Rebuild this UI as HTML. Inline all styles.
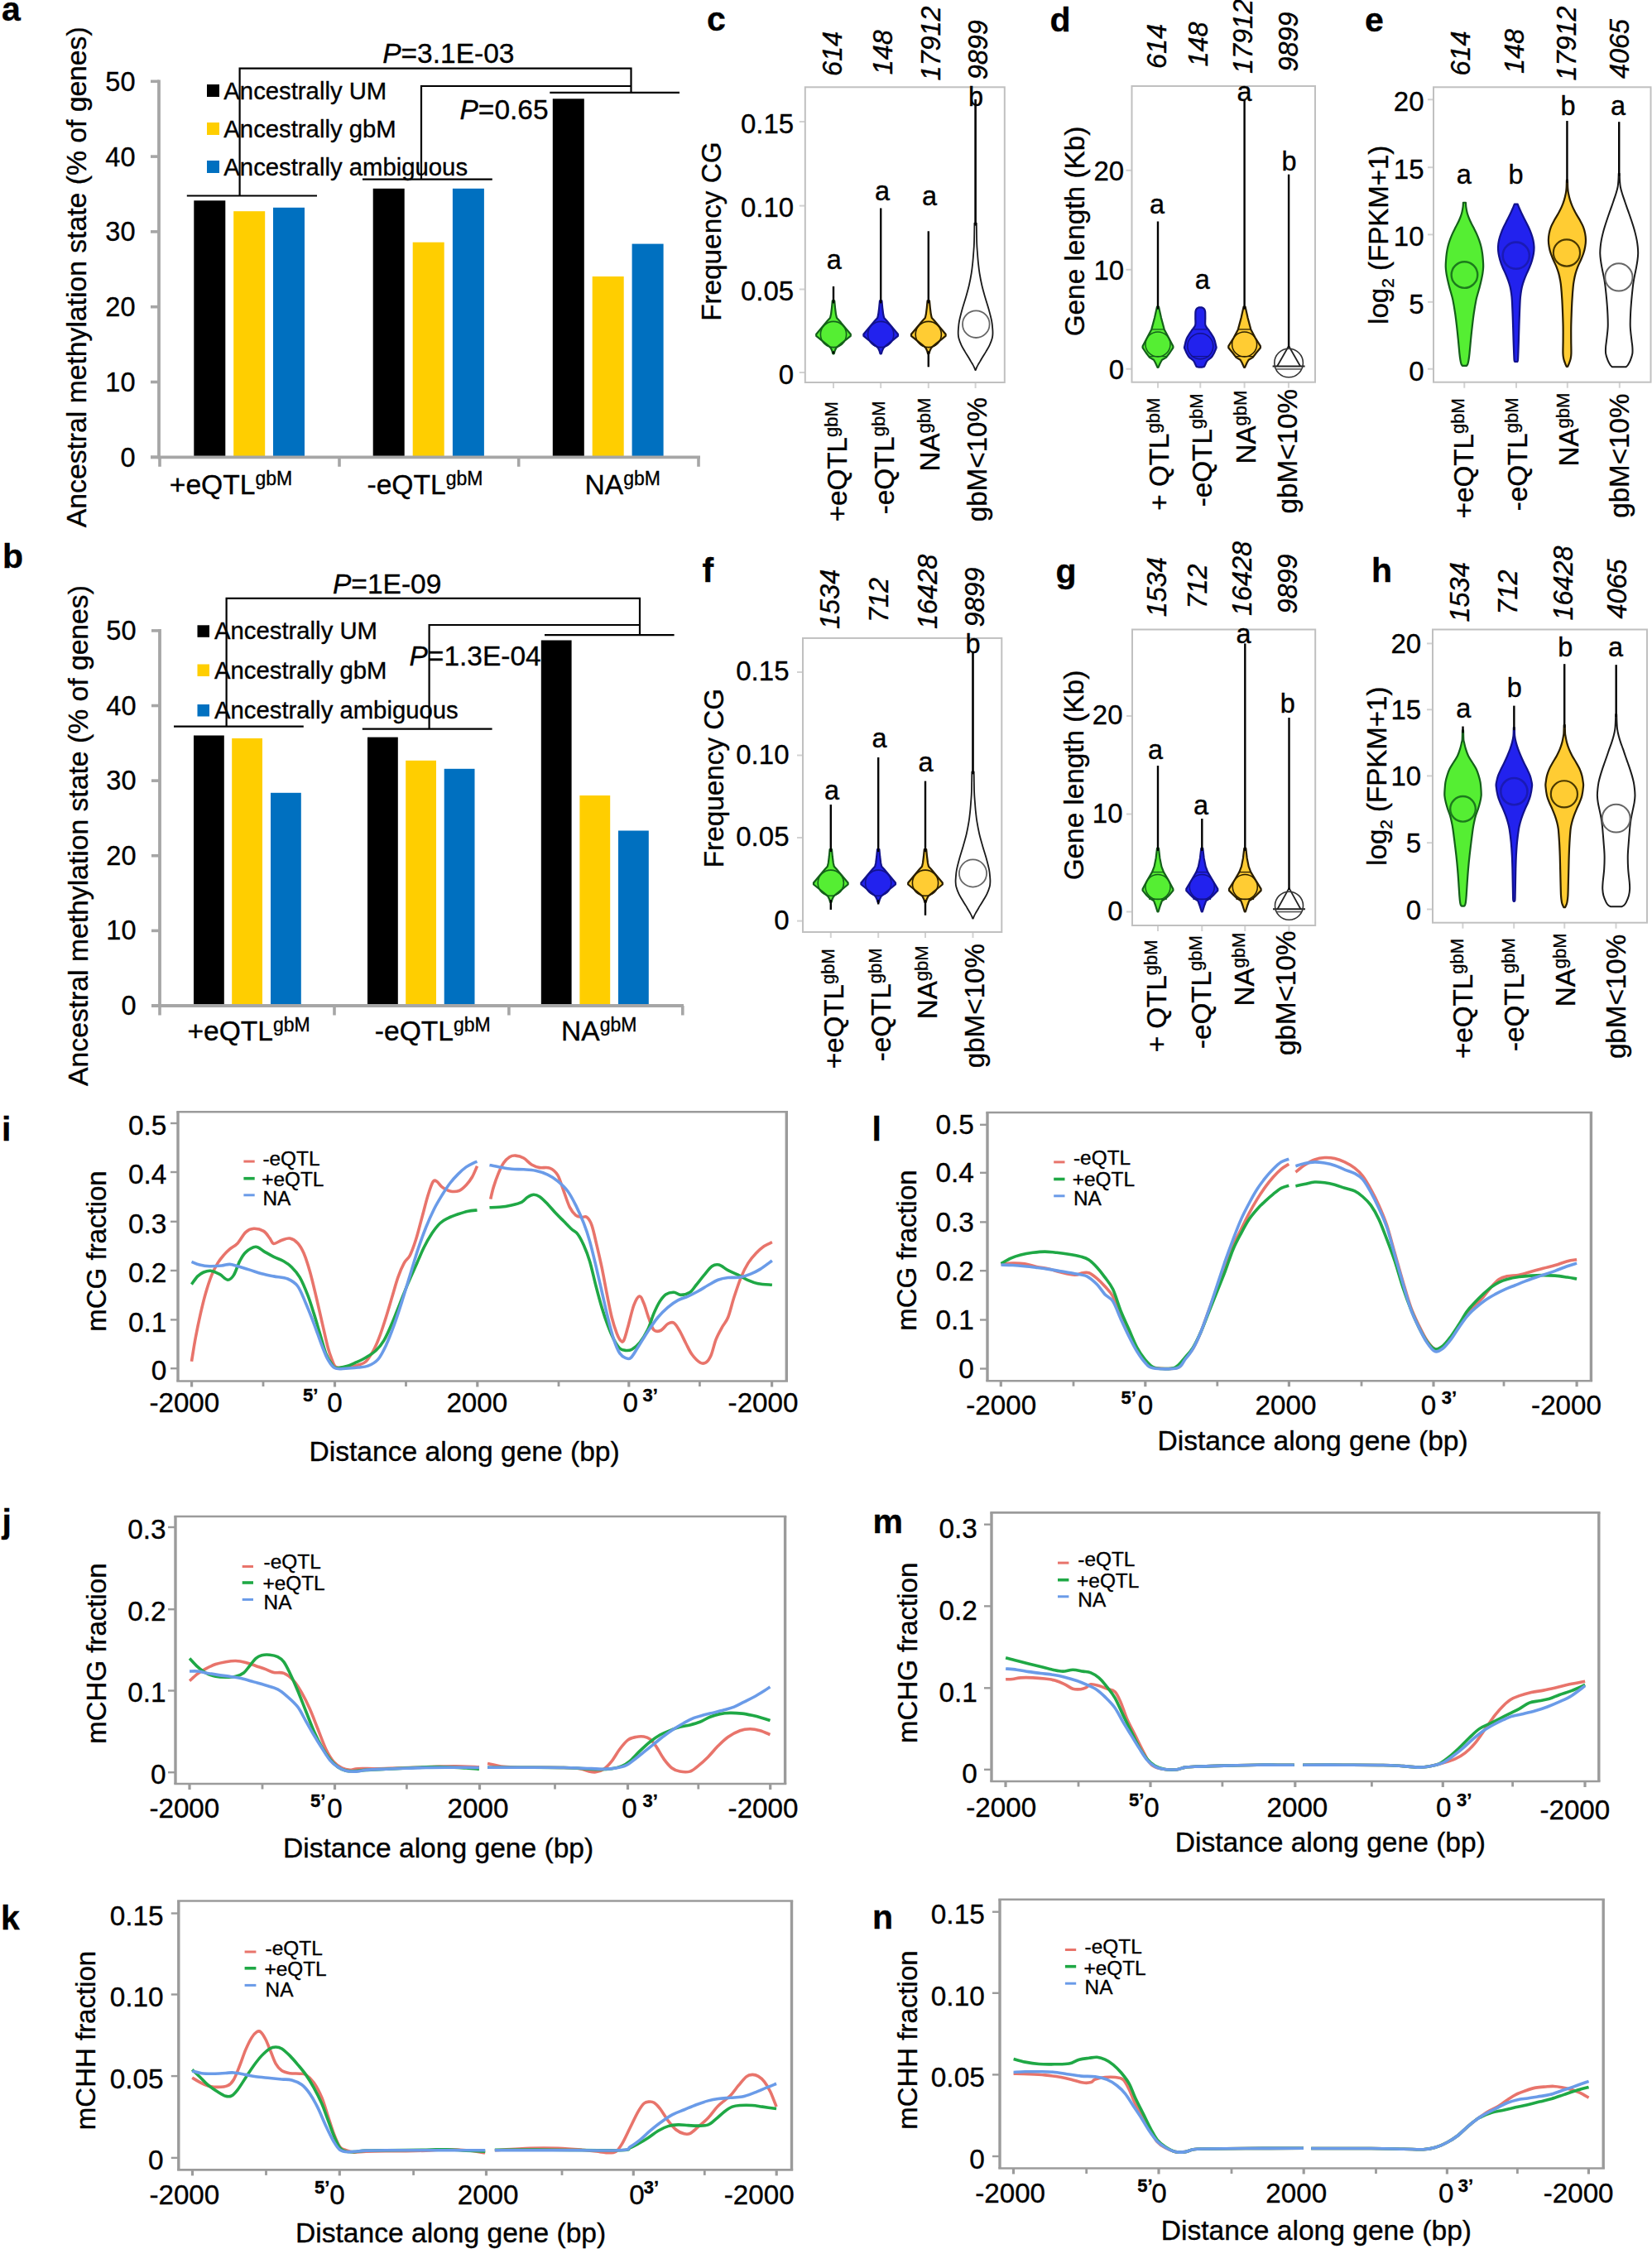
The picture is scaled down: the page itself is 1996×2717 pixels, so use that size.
<!DOCTYPE html>
<html lang="en">
<head>
<meta charset="utf-8">
<title>Figure</title>
<style>
html,body{margin:0;padding:0;background:#fff;}
svg{display:block;}
text{font-family:"Liberation Sans", Arial, sans-serif;stroke:#000;stroke-width:0.35px;}
</style>
</head>
<body>
<svg width="1996" height="2717" viewBox="0 0 1996 2717">
<rect x="0" y="0" width="1996" height="2717" fill="#ffffff"/>
<rect x="234.3" y="242.3" width="38" height="310" fill="#000000" stroke="none" stroke-width="0" />
<rect x="282.2" y="255.2" width="38" height="297.1" fill="#FFCE00" stroke="none" stroke-width="0" />
<rect x="330" y="250.8" width="38" height="301.5" fill="#0070C0" stroke="none" stroke-width="0" />
<rect x="450.7" y="227.8" width="38" height="324.5" fill="#000000" stroke="none" stroke-width="0" />
<rect x="498.7" y="292.7" width="38" height="259.6" fill="#FFCE00" stroke="none" stroke-width="0" />
<rect x="546.9" y="227.8" width="38" height="324.5" fill="#0070C0" stroke="none" stroke-width="0" />
<rect x="667.8" y="119.3" width="38" height="433" fill="#000000" stroke="none" stroke-width="0" />
<rect x="715.7" y="334" width="38" height="218.3" fill="#FFCE00" stroke="none" stroke-width="0" />
<rect x="763.6" y="294.6" width="38" height="257.7" fill="#0070C0" stroke="none" stroke-width="0" />
<line x1="192" y1="96.4" x2="192" y2="554.2" stroke="#a6a6a6" stroke-width="3.8" />
<line x1="182" y1="552.3" x2="846" y2="552.3" stroke="#a6a6a6" stroke-width="3.8" />
<line x1="182" y1="98.3" x2="192" y2="98.3" stroke="#a6a6a6" stroke-width="3.6" />
<text x="163.5" y="109.7" font-size="32.5" text-anchor="end" font-weight="normal" font-style="normal" fill="#000" >50</text>
<line x1="182" y1="189.1" x2="192" y2="189.1" stroke="#a6a6a6" stroke-width="3.6" />
<text x="163.5" y="200.5" font-size="32.5" text-anchor="end" font-weight="normal" font-style="normal" fill="#000" >40</text>
<line x1="182" y1="279.9" x2="192" y2="279.9" stroke="#a6a6a6" stroke-width="3.6" />
<text x="163.5" y="291.3" font-size="32.5" text-anchor="end" font-weight="normal" font-style="normal" fill="#000" >30</text>
<line x1="182" y1="370.7" x2="192" y2="370.7" stroke="#a6a6a6" stroke-width="3.6" />
<text x="163.5" y="382.1" font-size="32.5" text-anchor="end" font-weight="normal" font-style="normal" fill="#000" >20</text>
<line x1="182" y1="461.5" x2="192" y2="461.5" stroke="#a6a6a6" stroke-width="3.6" />
<text x="163.5" y="472.9" font-size="32.5" text-anchor="end" font-weight="normal" font-style="normal" fill="#000" >10</text>
<line x1="182" y1="552.3" x2="192" y2="552.3" stroke="#a6a6a6" stroke-width="3.6" />
<text x="163.5" y="563.7" font-size="32.5" text-anchor="end" font-weight="normal" font-style="normal" fill="#000" >0</text>
<line x1="193" y1="552.3" x2="193" y2="563.8" stroke="#a6a6a6" stroke-width="3.6" />
<line x1="410" y1="552.3" x2="410" y2="563.8" stroke="#a6a6a6" stroke-width="3.6" />
<line x1="626.7" y1="552.3" x2="626.7" y2="563.8" stroke="#a6a6a6" stroke-width="3.6" />
<line x1="844" y1="552.3" x2="844" y2="563.8" stroke="#a6a6a6" stroke-width="3.6" />
<rect x="250" y="102" width="15" height="15" fill="#000000" stroke="none" stroke-width="0" />
<text x="270.3" y="120.4" font-size="29.3" text-anchor="start" font-weight="normal" font-style="normal" fill="#000" >Ancestrally UM</text>
<rect x="250" y="148" width="15" height="15" fill="#FFCE00" stroke="none" stroke-width="0" />
<text x="270.3" y="166.1" font-size="29.3" text-anchor="start" font-weight="normal" font-style="normal" fill="#000" >Ancestrally gbM</text>
<rect x="250" y="194" width="15" height="15" fill="#0070C0" stroke="none" stroke-width="0" />
<text x="270.3" y="211.8" font-size="29.3" text-anchor="start" font-weight="normal" font-style="normal" fill="#000" >Ancestrally ambiguous</text>
<polyline points="225.8,236.5 383,236.5" fill="none" stroke="#000" stroke-width="2.2"/>
<polyline points="289.6,236.5 289.6,82.6 762.5,82.6 762.5,111.8" fill="none" stroke="#000" stroke-width="2.2"/>
<polyline points="664.3,111.8 821,111.8" fill="none" stroke="#000" stroke-width="2.2"/>
<polyline points="438,216.7 594.8,216.7" fill="none" stroke="#000" stroke-width="2.2"/>
<polyline points="509,216.7 509,104 762.5,104" fill="none" stroke="#000" stroke-width="2.2"/>
<text x="462.2" y="76" font-size="33.5" text-anchor="start" font-weight="normal" font-style="normal" fill="#000" ><tspan font-style="italic">P</tspan>=3.1E-03</text>
<text x="555.5" y="143.8" font-size="33.5" text-anchor="start" font-weight="normal" font-style="normal" fill="#000" ><tspan font-style="italic">P</tspan>=0.65</text>
<text x="204.8" y="597.2" font-size="33.6" text-anchor="start" font-weight="normal" font-style="normal" fill="#000" >+eQTL<tspan font-size="23" dy="-11">gbM</tspan></text>
<text x="443.5" y="597.2" font-size="33.6" text-anchor="start" font-weight="normal" font-style="normal" fill="#000" >-eQTL<tspan font-size="23" dy="-11">gbM</tspan></text>
<text x="706.5" y="597.2" font-size="33.6" text-anchor="start" font-weight="normal" font-style="normal" fill="#000" >NA<tspan font-size="23" dy="-11">gbM</tspan></text>
<text x="104" y="334.75" font-size="33.7" text-anchor="middle" font-weight="normal" font-style="normal" fill="#000" transform="rotate(-90 104 334.75)" >Ancestral methylation state (% of genes)</text>
<text x="2" y="25" font-size="41" text-anchor="start" font-weight="bold" font-style="normal" fill="#000" >a</text>
<rect x="234" y="888.5" width="36.8" height="326.5" fill="#000000" stroke="none" stroke-width="0" />
<rect x="280.2" y="892" width="36.8" height="323" fill="#FFCE00" stroke="none" stroke-width="0" />
<rect x="327" y="957.8" width="36.8" height="257.2" fill="#0070C0" stroke="none" stroke-width="0" />
<rect x="444" y="890.6" width="36.8" height="324.4" fill="#000000" stroke="none" stroke-width="0" />
<rect x="490.2" y="918.8" width="36.8" height="296.2" fill="#FFCE00" stroke="none" stroke-width="0" />
<rect x="536.7" y="928.8" width="36.8" height="286.2" fill="#0070C0" stroke="none" stroke-width="0" />
<rect x="653.8" y="773.5" width="36.8" height="441.5" fill="#000000" stroke="none" stroke-width="0" />
<rect x="700.4" y="961" width="36.8" height="254" fill="#FFCE00" stroke="none" stroke-width="0" />
<rect x="747" y="1003.5" width="36.8" height="211.5" fill="#0070C0" stroke="none" stroke-width="0" />
<line x1="193" y1="760" x2="193" y2="1216.9" stroke="#a6a6a6" stroke-width="3.8" />
<line x1="183" y1="1215" x2="826" y2="1215" stroke="#a6a6a6" stroke-width="3.8" />
<line x1="183" y1="761.9" x2="193" y2="761.9" stroke="#a6a6a6" stroke-width="3.6" />
<text x="164.5" y="772.9" font-size="32.5" text-anchor="end" font-weight="normal" font-style="normal" fill="#000" >50</text>
<line x1="183" y1="852.52" x2="193" y2="852.52" stroke="#a6a6a6" stroke-width="3.6" />
<text x="164.5" y="863.52" font-size="32.5" text-anchor="end" font-weight="normal" font-style="normal" fill="#000" >40</text>
<line x1="183" y1="943.14" x2="193" y2="943.14" stroke="#a6a6a6" stroke-width="3.6" />
<text x="164.5" y="954.14" font-size="32.5" text-anchor="end" font-weight="normal" font-style="normal" fill="#000" >30</text>
<line x1="183" y1="1033.76" x2="193" y2="1033.76" stroke="#a6a6a6" stroke-width="3.6" />
<text x="164.5" y="1044.76" font-size="32.5" text-anchor="end" font-weight="normal" font-style="normal" fill="#000" >20</text>
<line x1="183" y1="1124.38" x2="193" y2="1124.38" stroke="#a6a6a6" stroke-width="3.6" />
<text x="164.5" y="1135.38" font-size="32.5" text-anchor="end" font-weight="normal" font-style="normal" fill="#000" >10</text>
<line x1="183" y1="1215" x2="193" y2="1215" stroke="#a6a6a6" stroke-width="3.6" />
<text x="164.5" y="1226" font-size="32.5" text-anchor="end" font-weight="normal" font-style="normal" fill="#000" >0</text>
<line x1="193" y1="1215" x2="193" y2="1226.5" stroke="#a6a6a6" stroke-width="3.6" />
<line x1="404" y1="1215" x2="404" y2="1226.5" stroke="#a6a6a6" stroke-width="3.6" />
<line x1="614.9" y1="1215" x2="614.9" y2="1226.5" stroke="#a6a6a6" stroke-width="3.6" />
<line x1="824.8" y1="1215" x2="824.8" y2="1226.5" stroke="#a6a6a6" stroke-width="3.6" />
<rect x="238.5" y="755.3" width="14.5" height="14.5" fill="#000000" stroke="none" stroke-width="0" />
<text x="259" y="772" font-size="29.3" text-anchor="start" font-weight="normal" font-style="normal" fill="#000" >Ancestrally UM</text>
<rect x="238.5" y="802.5" width="14.5" height="14.5" fill="#FFCE00" stroke="none" stroke-width="0" />
<text x="259" y="820" font-size="29.3" text-anchor="start" font-weight="normal" font-style="normal" fill="#000" >Ancestrally gbM</text>
<rect x="238.5" y="851" width="14.5" height="14.5" fill="#0070C0" stroke="none" stroke-width="0" />
<text x="259" y="867.5" font-size="29.3" text-anchor="start" font-weight="normal" font-style="normal" fill="#000" >Ancestrally ambiguous</text>
<polyline points="210,877.6 366.8,877.6" fill="none" stroke="#000" stroke-width="2.2"/>
<polyline points="273.6,877.6 273.6,722.9 773,722.9 773,767.1" fill="none" stroke="#000" stroke-width="2.2"/>
<polyline points="658,767.1 814.6,767.1" fill="none" stroke="#000" stroke-width="2.2"/>
<polyline points="437.8,880.6 594.6,880.6" fill="none" stroke="#000" stroke-width="2.2"/>
<polyline points="518.6,880.6 518.6,755 773,755" fill="none" stroke="#000" stroke-width="2.2"/>
<text x="402" y="717.2" font-size="33.5" text-anchor="start" font-weight="normal" font-style="normal" fill="#000" ><tspan font-style="italic">P</tspan>=1E-09</text>
<text x="494.5" y="803.5" font-size="33.5" text-anchor="start" font-weight="normal" font-style="normal" fill="#000" ><tspan font-style="italic">P</tspan>=1.3E-04</text>
<text x="226.4" y="1256.5" font-size="33.6" text-anchor="start" font-weight="normal" font-style="normal" fill="#000" >+eQTL<tspan font-size="23" dy="-11">gbM</tspan></text>
<text x="452.8" y="1256.5" font-size="33.6" text-anchor="start" font-weight="normal" font-style="normal" fill="#000" >-eQTL<tspan font-size="23" dy="-11">gbM</tspan></text>
<text x="678" y="1256.5" font-size="33.6" text-anchor="start" font-weight="normal" font-style="normal" fill="#000" >NA<tspan font-size="23" dy="-11">gbM</tspan></text>
<text x="106" y="1009.5" font-size="33.7" text-anchor="middle" font-weight="normal" font-style="normal" fill="#000" transform="rotate(-90 106 1009.5)" >Ancestral methylation state (% of genes)</text>
<text x="3" y="686.3" font-size="41" text-anchor="start" font-weight="bold" font-style="normal" fill="#000" >b</text>
<line x1="965.8" y1="147" x2="972.8" y2="147" stroke="#d2d2d2" stroke-width="2" />
<text x="959.2" y="160.5" font-size="33" text-anchor="end" font-weight="normal" font-style="normal" fill="#000" >0.15</text>
<line x1="965.8" y1="248.6" x2="972.8" y2="248.6" stroke="#d2d2d2" stroke-width="2" />
<text x="959.2" y="262.1" font-size="33" text-anchor="end" font-weight="normal" font-style="normal" fill="#000" >0.10</text>
<line x1="965.8" y1="349.5" x2="972.8" y2="349.5" stroke="#d2d2d2" stroke-width="2" />
<text x="959.2" y="363" font-size="33" text-anchor="end" font-weight="normal" font-style="normal" fill="#000" >0.05</text>
<line x1="965.8" y1="450" x2="972.8" y2="450" stroke="#d2d2d2" stroke-width="2" />
<text x="959.2" y="463.5" font-size="33" text-anchor="end" font-weight="normal" font-style="normal" fill="#000" >0</text>
<line x1="1007" y1="462" x2="1007" y2="469" stroke="#d2d2d2" stroke-width="2" />
<line x1="1064.2" y1="462" x2="1064.2" y2="469" stroke="#d2d2d2" stroke-width="2" />
<line x1="1121.8" y1="462" x2="1121.8" y2="469" stroke="#d2d2d2" stroke-width="2" />
<line x1="1178.6" y1="462" x2="1178.6" y2="469" stroke="#d2d2d2" stroke-width="2" />
<rect x="972.8" y="105.3" width="241" height="356.7" fill="none" stroke="#c0c0c0" stroke-width="2" />
<circle cx="1007" cy="404" r="15.6" fill="#55EE33" stroke="#14601a" stroke-width="1.6"/>
<path d="M1005.8 363.4L1005 371.8L1004 379.8L1003 384L1000 387.3L986.2 403.8L986.2 405.8L1001 417.8L1003.8 420.5L1005.3 423.8L1006.3 427.3L1007.7 427.3L1008.7 423.8L1010.2 420.5L1013 417.8L1027.8 405.8L1027.8 403.8L1014 387.3L1011 384L1010 379.8L1009 371.8L1008.2 363.4Z" fill="#55EE33" stroke="#14601a" stroke-width="2.2" stroke-linejoin="round"/>
<circle cx="1007" cy="404" r="15.6" fill="none" stroke="#14601a" stroke-width="1.6"/>
<line x1="1007" y1="346" x2="1007" y2="366.4" stroke="#000" stroke-width="2.4" />
<line x1="1007" y1="424.3" x2="1007" y2="427.3" stroke="#000" stroke-width="2.4" />
<circle cx="1064.2" cy="404" r="15.6" fill="#2222EE" stroke="#12128c" stroke-width="1.6"/>
<path d="M1063 363.4L1062.2 371.8L1061.2 379.8L1060.2 384L1057.2 387.3L1043.4 403.8L1043.4 405.8L1058.2 417.8L1061 420.5L1062.5 423.8L1063.5 427.3L1064.9 427.3L1065.9 423.8L1067.4 420.5L1070.2 417.8L1085 405.8L1085 403.8L1071.2 387.3L1068.2 384L1067.2 379.8L1066.2 371.8L1065.4 363.4Z" fill="#2222EE" stroke="#12128c" stroke-width="2.2" stroke-linejoin="round"/>
<circle cx="1064.2" cy="404" r="15.6" fill="none" stroke="#12128c" stroke-width="1.6"/>
<line x1="1064.2" y1="251.5" x2="1064.2" y2="366.4" stroke="#000" stroke-width="2.4" />
<circle cx="1121.8" cy="404" r="15.6" fill="#FFCC33" stroke="#2a1e00" stroke-width="1.6"/>
<path d="M1120.6 363.4L1119.8 371.8L1118.8 379.8L1117.8 384L1114.8 387.3L1101 403.8L1101 405.8L1115.8 417.8L1118.6 420.5L1120.1 423.8L1121.1 427.3L1122.5 427.3L1123.5 423.8L1125 420.5L1127.8 417.8L1142.6 405.8L1142.6 403.8L1128.8 387.3L1125.8 384L1124.8 379.8L1123.8 371.8L1123 363.4Z" fill="#FFCC33" stroke="#2a1e00" stroke-width="2.2" stroke-linejoin="round"/>
<circle cx="1121.8" cy="404" r="15.6" fill="none" stroke="#2a1e00" stroke-width="1.6"/>
<line x1="1121.8" y1="279.3" x2="1121.8" y2="366.4" stroke="#000" stroke-width="2.4" />
<line x1="1121.8" y1="424.3" x2="1121.8" y2="443.3" stroke="#000" stroke-width="2.4" />
<path d="M1177.4 269.6C1177.33 273.6 1177.2 287.53 1177 293.6C1176.8 299.67 1176.5 301.93 1176.2 306C1175.9 310.07 1175.62 314 1175.2 318C1174.78 322 1174.42 325.58 1173.7 330C1172.98 334.42 1172.02 339.67 1170.9 344.5C1169.78 349.33 1168.38 354.15 1167 359C1165.62 363.85 1163.93 368.77 1162.6 373.6C1161.27 378.43 1159.78 384 1159 388C1158.22 392 1158.12 395.17 1157.9 397.6C1157.68 400.03 1157.62 400.77 1157.7 402.6C1157.78 404.43 1157.75 406.17 1158.4 408.6C1159.05 411.03 1160.37 414.53 1161.6 417.2C1162.83 419.87 1164.37 422.18 1165.8 424.6C1167.23 427.02 1169 429.7 1170.2 431.7C1171.4 433.7 1172.15 435.15 1173 436.6C1173.85 438.05 1174.63 439.23 1175.3 440.4C1175.97 441.57 1176.5 442.5 1177 443.6C1177.5 444.7 1178.08 446.43 1178.3 447L1178.9 447C1179.12 446.43 1179.7 444.7 1180.2 443.6C1180.7 442.5 1181.23 441.57 1181.9 440.4C1182.57 439.23 1183.35 438.05 1184.2 436.6C1185.05 435.15 1185.8 433.7 1187 431.7C1188.2 429.7 1189.97 427.02 1191.4 424.6C1192.83 422.18 1194.37 419.87 1195.6 417.2C1196.83 414.53 1198.15 411.03 1198.8 408.6C1199.45 406.17 1199.42 404.43 1199.5 402.6C1199.58 400.77 1199.52 400.03 1199.3 397.6C1199.08 395.17 1198.98 392 1198.2 388C1197.42 384 1195.93 378.43 1194.6 373.6C1193.27 368.77 1191.58 363.85 1190.2 359C1188.82 354.15 1187.42 349.33 1186.3 344.5C1185.18 339.67 1184.22 334.42 1183.5 330C1182.78 325.58 1182.42 322 1182 318C1181.58 314 1181.3 310.07 1181 306C1180.7 301.93 1180.4 299.67 1180.2 293.6C1180 287.53 1179.87 273.6 1179.8 269.6Z" fill="none" stroke="#1a1a1a" stroke-width="1.8" stroke-linejoin="round"/>
<circle cx="1179.3" cy="391.7" r="16.3" fill="none" stroke="#666" stroke-width="1.8"/>
<line x1="1178.6" y1="120" x2="1178.6" y2="272.6" stroke="#000" stroke-width="2.6" />
<text x="1017" y="92.1" font-size="32.4" text-anchor="start" font-weight="normal" font-style="italic" fill="#000" transform="rotate(-90 1017 92.1)" >614</text>
<text x="1078" y="90.2" font-size="32.4" text-anchor="start" font-weight="normal" font-style="italic" fill="#000" transform="rotate(-90 1078 90.2)" >148</text>
<text x="1136" y="97.5" font-size="32.4" text-anchor="start" font-weight="normal" font-style="italic" fill="#000" transform="rotate(-90 1136 97.5)" >17912</text>
<text x="1193" y="96.2" font-size="32.4" text-anchor="start" font-weight="normal" font-style="italic" fill="#000" transform="rotate(-90 1193 96.2)" >9899</text>
<text x="1007.9" y="324.8" font-size="32.5" text-anchor="middle" font-weight="normal" font-style="normal" fill="#000" >a</text>
<text x="1066" y="241.8" font-size="32.5" text-anchor="middle" font-weight="normal" font-style="normal" fill="#000" >a</text>
<text x="1123" y="247.8" font-size="32.5" text-anchor="middle" font-weight="normal" font-style="normal" fill="#000" >a</text>
<text x="1179" y="127.8" font-size="32.5" text-anchor="middle" font-weight="normal" font-style="normal" fill="#000" >b</text>
<text x="1023.5" y="630.3" font-size="33.2" text-anchor="start" font-weight="normal" font-style="normal" fill="#000" transform="rotate(-90 1023.5 630.3)" >+eQTL<tspan font-size="22" dy="-11">gbM</tspan></text>
<text x="1079.8" y="621.3" font-size="33.2" text-anchor="start" font-weight="normal" font-style="normal" fill="#000" transform="rotate(-90 1079.8 621.3)" >-eQTL<tspan font-size="22" dy="-11">gbM</tspan></text>
<text x="1135.2" y="569.5" font-size="33.2" text-anchor="start" font-weight="normal" font-style="normal" fill="#000" transform="rotate(-90 1135.2 569.5)" >NA<tspan font-size="22" dy="-11">gbM</tspan></text>
<text x="1192.4" y="630.3" font-size="33.2" text-anchor="start" font-weight="normal" font-style="normal" fill="#000" transform="rotate(-90 1192.4 630.3)" >gbM&lt;10%</text>
<text x="870.6" y="279.6" font-size="33.3" text-anchor="middle" font-weight="normal" font-style="normal" fill="#000" transform="rotate(-90 870.6 279.6)" >Frequency CG</text>
<text x="854" y="36.8" font-size="41" text-anchor="start" font-weight="bold" font-style="normal" fill="#000" >c</text>
<line x1="1360.5" y1="205.8" x2="1367.5" y2="205.8" stroke="#d2d2d2" stroke-width="2" />
<text x="1358.2" y="217.8" font-size="33" text-anchor="end" font-weight="normal" font-style="normal" fill="#000" >20</text>
<line x1="1360.5" y1="325.8" x2="1367.5" y2="325.8" stroke="#d2d2d2" stroke-width="2" />
<text x="1358.2" y="337.8" font-size="33" text-anchor="end" font-weight="normal" font-style="normal" fill="#000" >10</text>
<line x1="1360.5" y1="445.7" x2="1367.5" y2="445.7" stroke="#d2d2d2" stroke-width="2" />
<text x="1358.2" y="457.7" font-size="33" text-anchor="end" font-weight="normal" font-style="normal" fill="#000" >0</text>
<line x1="1399" y1="461.7" x2="1399" y2="468.7" stroke="#d2d2d2" stroke-width="2" />
<line x1="1450.3" y1="461.7" x2="1450.3" y2="468.7" stroke="#d2d2d2" stroke-width="2" />
<line x1="1503.6" y1="461.7" x2="1503.6" y2="468.7" stroke="#d2d2d2" stroke-width="2" />
<line x1="1556.9" y1="461.7" x2="1556.9" y2="468.7" stroke="#d2d2d2" stroke-width="2" />
<rect x="1367.5" y="104" width="221.5" height="357.7" fill="none" stroke="#c0c0c0" stroke-width="2" />
<circle cx="1399" cy="415.9" r="15" fill="#55EE33" stroke="#14601a" stroke-width="1.5"/>
<path d="M1398 370.6L1395 384L1391.3 397.9L1386 408L1380.6 418.2L1380.6 420.2L1384.5 426L1389 431.9L1394 434.7L1396 438.2L1398.5 443.9L1399.5 443.9L1402 438.2L1404 434.7L1409 431.9L1413.5 426L1417.4 420.2L1417.4 418.2L1412 408L1406.7 397.9L1403 384L1400 370.6Z" fill="#55EE33" stroke="#14601a" stroke-width="2.2" stroke-linejoin="round"/>
<circle cx="1399" cy="415.9" r="15" fill="none" stroke="#14601a" stroke-width="1.5"/>
<line x1="1391.3" y1="397.9" x2="1406.7" y2="397.9" stroke="#14601a" stroke-width="1.3" />
<line x1="1388.2" y1="430.6" x2="1409.8" y2="430.6" stroke="#14601a" stroke-width="1.3" />
<line x1="1399" y1="267.5" x2="1399" y2="373.6" stroke="#000" stroke-width="2.4" />
<circle cx="1450.3" cy="418.2" r="15.5" fill="#2222EE" stroke="#12128c" stroke-width="1.5"/>
<path d="M1448.8 371.3C1448.35 371.53 1446.82 371.88 1446.1 372.7C1445.38 373.52 1444.8 374.28 1444.5 376.2C1444.2 378.12 1444.37 381.37 1444.3 384.2C1444.23 387.03 1444.93 390.57 1444.1 393.2C1443.27 395.83 1441.03 397.32 1439.3 400C1437.57 402.68 1435.03 406.27 1433.7 409.3C1432.37 412.33 1431.7 416.22 1431.3 418.2C1430.9 420.18 1430.52 419.13 1431.3 421.2C1432.08 423.27 1434.22 428.15 1436 430.6C1437.78 433.05 1440.62 434.3 1442 435.9C1443.38 437.5 1443.68 439.05 1444.3 440.2C1444.92 441.35 1445.03 442.23 1445.7 442.8C1446.37 443.37 1447.87 443.47 1448.3 443.6L1452.3 443.6C1452.73 443.47 1454.23 443.37 1454.9 442.8C1455.57 442.23 1455.68 441.35 1456.3 440.2C1456.92 439.05 1457.22 437.5 1458.6 435.9C1459.98 434.3 1462.82 433.05 1464.6 430.6C1466.38 428.15 1468.52 423.27 1469.3 421.2C1470.08 419.13 1469.7 420.18 1469.3 418.2C1468.9 416.22 1468.23 412.33 1466.9 409.3C1465.57 406.27 1463.03 402.68 1461.3 400C1459.57 397.32 1457.33 395.83 1456.5 393.2C1455.67 390.57 1456.37 387.03 1456.3 384.2C1456.23 381.37 1456.4 378.12 1456.1 376.2C1455.8 374.28 1455.22 373.52 1454.5 372.7C1453.78 371.88 1452.25 371.53 1451.8 371.3Z" fill="#2222EE" stroke="#12128c" stroke-width="2.2" stroke-linejoin="round"/>
<circle cx="1450.3" cy="418.2" r="15.5" fill="none" stroke="#12128c" stroke-width="1.5"/>
<line x1="1442.6" y1="397.9" x2="1458" y2="397.9" stroke="#12128c" stroke-width="1.3" />
<line x1="1439.5" y1="430.6" x2="1461.1" y2="430.6" stroke="#12128c" stroke-width="1.3" />
<circle cx="1503.6" cy="415.9" r="15" fill="#FFCC33" stroke="#2a1e00" stroke-width="1.5"/>
<path d="M1502.6 370.6L1499.6 384L1495.9 397.9L1490.6 408L1484.3 418.2L1484.3 420.2L1489.1 426L1493.6 431.9L1498.6 434.7L1500.6 438.2L1503.1 443.9L1504.1 443.9L1506.6 438.2L1508.6 434.7L1513.6 431.9L1518.1 426L1522.9 420.2L1522.9 418.2L1516.6 408L1511.3 397.9L1507.6 384L1504.6 370.6Z" fill="#FFCC33" stroke="#2a1e00" stroke-width="2.2" stroke-linejoin="round"/>
<circle cx="1503.6" cy="415.9" r="15" fill="none" stroke="#2a1e00" stroke-width="1.5"/>
<line x1="1495.9" y1="397.9" x2="1511.3" y2="397.9" stroke="#2a1e00" stroke-width="1.3" />
<line x1="1492.8" y1="430.6" x2="1514.4" y2="430.6" stroke="#2a1e00" stroke-width="1.3" />
<line x1="1503.6" y1="121" x2="1503.6" y2="373.6" stroke="#000" stroke-width="2.4" />
<path d="M1543.1 442.5 L1557.1 418 L1571.1 442.5" fill="none" stroke="#222" stroke-width="1.8" stroke-linejoin="round"/>
<line x1="1537.6" y1="442.5" x2="1576.6" y2="442.5" stroke="#222" stroke-width="2" />
<line x1="1542.1" y1="445.9" x2="1572.1" y2="445.9" stroke="#444" stroke-width="1.4" />
<circle cx="1557.1" cy="438.5" r="17.3" fill="none" stroke="#333" stroke-width="1.6"/>
<line x1="1557.1" y1="210.7" x2="1557.1" y2="420" stroke="#000" stroke-width="2.4" />
<text x="1409.2" y="82.9" font-size="32.4" text-anchor="start" font-weight="normal" font-style="italic" fill="#000" transform="rotate(-90 1409.2 82.9)" >614</text>
<text x="1459.5" y="80.6" font-size="32.4" text-anchor="start" font-weight="normal" font-style="italic" fill="#000" transform="rotate(-90 1459.5 80.6)" >148</text>
<text x="1513.3" y="89" font-size="32.4" text-anchor="start" font-weight="normal" font-style="italic" fill="#000" transform="rotate(-90 1513.3 89)" >17912</text>
<text x="1567.8" y="86.6" font-size="32.4" text-anchor="start" font-weight="normal" font-style="italic" fill="#000" transform="rotate(-90 1567.8 86.6)" >9899</text>
<text x="1398" y="257.6" font-size="32.5" text-anchor="middle" font-weight="normal" font-style="normal" fill="#000" >a</text>
<text x="1452.7" y="349.1" font-size="32.5" text-anchor="middle" font-weight="normal" font-style="normal" fill="#000" >a</text>
<text x="1503.5" y="121.8" font-size="32.5" text-anchor="middle" font-weight="normal" font-style="normal" fill="#000" >a</text>
<text x="1557.5" y="206.1" font-size="32.5" text-anchor="middle" font-weight="normal" font-style="normal" fill="#000" >b</text>
<text x="1411.7" y="616.7" font-size="33.2" text-anchor="start" font-weight="normal" font-style="normal" fill="#000" transform="rotate(-90 1411.7 616.7)" >+ QTL<tspan font-size="22" dy="-11">gbM</tspan></text>
<text x="1464.4" y="612.2" font-size="33.2" text-anchor="start" font-weight="normal" font-style="normal" fill="#000" transform="rotate(-90 1464.4 612.2)" >-eQTL<tspan font-size="22" dy="-11">gbM</tspan></text>
<text x="1517" y="560.5" font-size="33.2" text-anchor="start" font-weight="normal" font-style="normal" fill="#000" transform="rotate(-90 1517 560.5)" >NA<tspan font-size="22" dy="-11">gbM</tspan></text>
<text x="1567" y="620.4" font-size="33.2" text-anchor="start" font-weight="normal" font-style="normal" fill="#000" transform="rotate(-90 1567 620.4)" >gbM&lt;10%</text>
<text x="1310" y="279.5" font-size="33.3" text-anchor="middle" font-weight="normal" font-style="normal" fill="#000" transform="rotate(-90 1310 279.5)" >Gene length (Kb)</text>
<text x="1268.5" y="37.5" font-size="41" text-anchor="start" font-weight="bold" font-style="normal" fill="#000" >d</text>
<line x1="1725" y1="120.3" x2="1732" y2="120.3" stroke="#d2d2d2" stroke-width="2" />
<text x="1720.5" y="134.3" font-size="33" text-anchor="end" font-weight="normal" font-style="normal" fill="#000" >20</text>
<line x1="1725" y1="202.2" x2="1732" y2="202.2" stroke="#d2d2d2" stroke-width="2" />
<text x="1720.5" y="216.2" font-size="33" text-anchor="end" font-weight="normal" font-style="normal" fill="#000" >15</text>
<line x1="1725" y1="283.4" x2="1732" y2="283.4" stroke="#d2d2d2" stroke-width="2" />
<text x="1720.5" y="297.4" font-size="33" text-anchor="end" font-weight="normal" font-style="normal" fill="#000" >10</text>
<line x1="1725" y1="364.8" x2="1732" y2="364.8" stroke="#d2d2d2" stroke-width="2" />
<text x="1720.5" y="378.8" font-size="33" text-anchor="end" font-weight="normal" font-style="normal" fill="#000" >5</text>
<line x1="1725" y1="445.7" x2="1732" y2="445.7" stroke="#d2d2d2" stroke-width="2" />
<text x="1720.5" y="459.7" font-size="33" text-anchor="end" font-weight="normal" font-style="normal" fill="#000" >0</text>
<line x1="1769.3" y1="461.7" x2="1769.3" y2="468.7" stroke="#d2d2d2" stroke-width="2" />
<line x1="1832" y1="461.7" x2="1832" y2="468.7" stroke="#d2d2d2" stroke-width="2" />
<line x1="1893.8" y1="461.7" x2="1893.8" y2="468.7" stroke="#d2d2d2" stroke-width="2" />
<line x1="1956.8" y1="461.7" x2="1956.8" y2="468.7" stroke="#d2d2d2" stroke-width="2" />
<rect x="1732" y="105.3" width="262.5" height="356.4" fill="none" stroke="#c0c0c0" stroke-width="2" />
<circle cx="1769.45" cy="332.03" r="15.8" fill="#55EE33" stroke="#1c7a1c" stroke-width="2.4"/>
<path d="M1767.92 244.76C1767.87 245.62 1767.92 247.72 1767.6 249.92C1767.28 252.12 1766.75 255.28 1765.99 257.97C1765.22 260.65 1764.18 263.33 1763.01 266.02C1761.84 268.7 1760.32 271.38 1758.98 274.07C1757.64 276.75 1756.17 279.44 1754.96 282.12C1753.75 284.8 1752.68 287.49 1751.74 290.17C1750.8 292.85 1749.97 295.54 1749.32 298.22C1748.68 300.9 1748.25 303.59 1747.87 306.27C1747.5 308.96 1747.26 311.64 1747.07 314.32C1746.88 317.01 1746.67 319.69 1746.75 322.37C1746.83 325.06 1747.15 327.74 1747.55 330.42C1747.95 333.11 1748.57 335.79 1749.16 338.48C1749.75 341.16 1750.4 343.84 1751.09 346.53C1751.79 349.21 1752.62 351.89 1753.35 354.58C1754.07 357.26 1754.64 358.6 1755.44 362.63C1756.25 366.65 1757.39 373.36 1758.18 378.73C1758.97 384.1 1759.57 389.46 1760.19 394.83C1760.81 400.2 1761.34 405.57 1761.88 410.93C1762.42 416.3 1762.98 423.01 1763.41 427.04C1763.84 431.06 1764.1 432.94 1764.46 435.09C1764.82 437.23 1765.18 438.79 1765.58 439.92C1765.99 441.04 1766.66 441.53 1766.87 441.85L1772.03 441.85C1772.24 441.53 1772.91 441.04 1773.31 439.92C1773.72 438.79 1774.08 437.23 1774.44 435.09C1774.8 432.94 1775.06 431.06 1775.49 427.04C1775.92 423.01 1776.48 416.3 1777.02 410.93C1777.55 405.57 1778.09 400.2 1778.71 394.83C1779.33 389.46 1779.93 384.1 1780.72 378.73C1781.51 373.36 1782.65 366.65 1783.46 362.63C1784.26 358.6 1784.83 357.26 1785.55 354.58C1786.28 351.89 1787.11 349.21 1787.81 346.53C1788.5 343.84 1789.15 341.16 1789.74 338.48C1790.33 335.79 1790.95 333.11 1791.35 330.42C1791.75 327.74 1792.07 325.06 1792.15 322.37C1792.23 319.69 1792.02 317.01 1791.83 314.32C1791.64 311.64 1791.4 308.96 1791.03 306.27C1790.65 303.59 1790.22 300.9 1789.58 298.22C1788.93 295.54 1788.1 292.85 1787.16 290.17C1786.22 287.49 1785.15 284.8 1783.94 282.12C1782.73 279.44 1781.26 276.75 1779.92 274.07C1778.57 271.38 1777.06 268.7 1775.89 266.02C1774.72 263.33 1773.68 260.65 1772.91 257.97C1772.15 255.28 1771.62 252.12 1771.3 249.92C1770.98 247.72 1771.03 245.62 1770.98 244.76Z" fill="#55EE33" stroke="#14601a" stroke-width="2.2" stroke-linejoin="round"/>
<circle cx="1769.45" cy="332.03" r="15.8" fill="none" stroke="#1c7a1c" stroke-width="2.4"/>
<circle cx="1831.76" cy="308.69" r="16.1" fill="#2222EE" stroke="#1a1ab5" stroke-width="2.6"/>
<path d="M1829.83 246.7C1829.62 247.23 1829.36 248.04 1828.54 249.92C1827.72 251.79 1826.19 255.28 1824.92 257.97C1823.65 260.65 1822.24 263.33 1820.89 266.02C1819.55 268.7 1818.1 271.38 1816.87 274.07C1815.63 276.75 1814.45 279.44 1813.49 282.12C1812.52 284.8 1811.65 287.49 1811.07 290.17C1810.5 292.85 1810.11 295.54 1810.03 298.22C1809.95 300.9 1810.19 303.59 1810.59 306.27C1810.99 308.96 1811.66 311.64 1812.44 314.32C1813.22 317.01 1814.19 319.69 1815.26 322.37C1816.33 325.06 1817.74 327.74 1818.88 330.42C1820.02 333.11 1821.15 335.79 1822.1 338.48C1823.05 341.16 1823.94 343.84 1824.6 346.53C1825.26 349.21 1825.67 351.89 1826.05 354.58C1826.42 357.26 1826.6 358.6 1826.85 362.63C1827.11 366.65 1827.36 373.36 1827.58 378.73C1827.79 384.1 1827.97 389.46 1828.14 394.83C1828.31 400.2 1828.45 405.57 1828.62 410.93C1828.8 416.3 1829.03 423.01 1829.19 427.04C1829.35 431.06 1829.41 433.42 1829.59 435.09C1829.76 436.75 1830.13 436.7 1830.23 437.02L1833.29 437.02C1833.4 436.7 1833.76 436.75 1833.94 435.09C1834.11 433.42 1834.18 431.06 1834.34 427.04C1834.5 423.01 1834.73 416.3 1834.9 410.93C1835.08 405.57 1835.21 400.2 1835.39 394.83C1835.56 389.46 1835.73 384.1 1835.95 378.73C1836.16 373.36 1836.42 366.65 1836.67 362.63C1836.93 358.6 1837.1 357.26 1837.48 354.58C1837.85 351.89 1838.27 349.21 1838.93 346.53C1839.59 343.84 1840.47 341.16 1841.42 338.48C1842.38 335.79 1843.5 333.11 1844.64 330.42C1845.79 327.74 1847.19 325.06 1848.27 322.37C1849.34 319.69 1850.31 317.01 1851.09 314.32C1851.86 311.64 1852.53 308.96 1852.94 306.27C1853.34 303.59 1853.58 300.9 1853.5 298.22C1853.42 295.54 1853.03 292.85 1852.45 290.17C1851.88 287.49 1851 284.8 1850.04 282.12C1849.07 279.44 1847.89 276.75 1846.66 274.07C1845.42 271.38 1843.97 268.7 1842.63 266.02C1841.29 263.33 1839.88 260.65 1838.61 257.97C1837.33 255.28 1835.8 251.79 1834.98 249.92C1834.16 248.04 1833.91 247.23 1833.7 246.7Z" fill="#2222EE" stroke="#12128c" stroke-width="2.2" stroke-linejoin="round"/>
<circle cx="1831.76" cy="308.69" r="16.1" fill="none" stroke="#1a1ab5" stroke-width="2.6"/>
<circle cx="1892.95" cy="305.47" r="16.1" fill="#FFCC33" stroke="#4a3800" stroke-width="2.2"/>
<path d="M1892.95 217.71C1892.9 219.32 1892.82 224.69 1892.63 227.37C1892.44 230.06 1892.29 231.4 1891.82 233.81C1891.35 236.23 1890.64 239.18 1889.81 241.86C1888.98 244.55 1888.01 247.23 1886.83 249.92C1885.65 252.6 1884.2 255.28 1882.73 257.97C1881.25 260.65 1879.44 263.33 1877.98 266.02C1876.51 268.7 1875 271.38 1873.95 274.07C1872.9 276.75 1872.21 279.44 1871.7 282.12C1871.19 284.8 1870.89 287.49 1870.89 290.17C1870.89 292.85 1871.23 295.54 1871.7 298.22C1872.17 300.9 1872.84 303.59 1873.71 306.27C1874.58 308.96 1875.79 311.64 1876.93 314.32C1878.07 317.01 1879.49 319.69 1880.55 322.37C1881.61 325.06 1882.54 327.74 1883.29 330.42C1884.04 333.11 1884.58 335.79 1885.06 338.48C1885.54 341.16 1885.8 342.5 1886.19 346.53C1886.58 350.55 1887.07 357.26 1887.39 362.63C1887.72 368 1887.92 373.36 1888.12 378.73C1888.32 384.1 1888.52 389.46 1888.6 394.83C1888.68 400.2 1888.63 405.57 1888.6 410.93C1888.58 416.3 1888.33 423.28 1888.44 427.04C1888.55 430.79 1888.8 431.46 1889.25 433.48C1889.69 435.49 1890.52 437.56 1891.1 439.11C1891.68 440.67 1892.44 442.2 1892.71 442.81L1894.16 442.81C1894.43 442.2 1895.19 440.67 1895.77 439.11C1896.34 437.56 1897.18 435.49 1897.62 433.48C1898.06 431.46 1898.32 430.79 1898.42 427.04C1898.53 423.28 1898.29 416.3 1898.26 410.93C1898.24 405.57 1898.18 400.2 1898.26 394.83C1898.34 389.46 1898.55 384.1 1898.75 378.73C1898.95 373.36 1899.15 368 1899.47 362.63C1899.79 357.26 1900.29 350.55 1900.68 346.53C1901.07 342.5 1901.32 341.16 1901.81 338.48C1902.29 335.79 1902.83 333.11 1903.58 330.42C1904.33 327.74 1905.25 325.06 1906.31 322.37C1907.37 319.69 1908.8 317.01 1909.94 314.32C1911.08 311.64 1912.29 308.96 1913.16 306.27C1914.03 303.59 1914.7 300.9 1915.17 298.22C1915.64 295.54 1915.98 292.85 1915.98 290.17C1915.98 287.49 1915.68 284.8 1915.17 282.12C1914.66 279.44 1913.96 276.75 1912.92 274.07C1911.87 271.38 1910.35 268.7 1908.89 266.02C1907.43 263.33 1905.62 260.65 1904.14 257.97C1902.66 255.28 1901.22 252.6 1900.03 249.92C1898.85 247.23 1897.89 244.55 1897.06 241.86C1896.22 239.18 1895.51 236.23 1895.04 233.81C1894.57 231.4 1894.43 230.06 1894.24 227.37C1894.05 224.69 1893.97 219.32 1893.92 217.71Z" fill="#FFCC33" stroke="#2a1e00" stroke-width="2.2" stroke-linejoin="round"/>
<circle cx="1892.95" cy="305.47" r="16.1" fill="none" stroke="#4a3800" stroke-width="2.2"/>
<line x1="1893.43" y1="146.06" x2="1893.43" y2="220.71" stroke="#000" stroke-width="2.4" />
<path d="M1955.75 209.66C1955.69 211 1955.61 215.03 1955.42 217.71C1955.24 220.4 1955.1 223.08 1954.62 225.76C1954.14 228.45 1953.33 231.13 1952.53 233.81C1951.72 236.5 1950.7 239.18 1949.79 241.86C1948.88 244.55 1947.99 247.23 1947.05 249.92C1946.11 252.6 1945.09 255.28 1944.15 257.97C1943.21 260.65 1942.3 263.33 1941.42 266.02C1940.53 268.7 1939.64 271.38 1938.84 274.07C1938.03 276.75 1937.26 279.44 1936.59 282.12C1935.91 284.8 1935.3 287.49 1934.81 290.17C1934.33 292.85 1933.94 295.54 1933.69 298.22C1933.43 300.9 1933.23 303.59 1933.28 306.27C1933.34 308.96 1933.67 311.64 1934.01 314.32C1934.34 317.01 1934.81 319.69 1935.3 322.37C1935.78 325.06 1936.37 327.74 1936.91 330.42C1937.44 333.11 1938.06 335.79 1938.52 338.48C1938.97 341.16 1939.19 342.5 1939.64 346.53C1940.1 350.55 1940.8 357.26 1941.26 362.63C1941.71 368 1942.14 373.36 1942.38 378.73C1942.62 384.1 1942.92 389.46 1942.7 394.83C1942.49 400.2 1941.52 406.91 1941.09 410.93C1940.66 414.96 1940.29 416.3 1940.13 418.98C1939.97 421.67 1939.73 424.35 1940.13 427.04C1940.53 429.72 1941.66 432.81 1942.54 435.09C1943.43 437.37 1944.58 439.38 1945.44 440.72C1946.3 442.06 1947.32 442.73 1947.7 443.14L1964.76 443.14C1965.14 442.73 1966.16 442.06 1967.02 440.72C1967.88 439.38 1969.03 437.37 1969.92 435.09C1970.8 432.81 1971.93 429.72 1972.33 427.04C1972.73 424.35 1972.49 421.67 1972.33 418.98C1972.17 416.3 1971.79 414.96 1971.37 410.93C1970.94 406.91 1969.97 400.2 1969.76 394.83C1969.54 389.46 1969.84 384.1 1970.08 378.73C1970.32 373.36 1970.75 368 1971.2 362.63C1971.66 357.26 1972.36 350.55 1972.81 346.53C1973.27 342.5 1973.49 341.16 1973.94 338.48C1974.4 335.79 1975.02 333.11 1975.55 330.42C1976.09 327.74 1976.68 325.06 1977.16 322.37C1977.65 319.69 1978.11 317.01 1978.45 314.32C1978.79 311.64 1979.12 308.96 1979.17 306.27C1979.23 303.59 1979.03 300.9 1978.77 298.22C1978.52 295.54 1978.13 292.85 1977.65 290.17C1977.16 287.49 1976.54 284.8 1975.87 282.12C1975.2 279.44 1974.42 276.75 1973.62 274.07C1972.81 271.38 1971.93 268.7 1971.04 266.02C1970.16 263.33 1969.25 260.65 1968.31 257.97C1967.37 255.28 1966.35 252.6 1965.41 249.92C1964.47 247.23 1963.58 244.55 1962.67 241.86C1961.76 239.18 1960.74 236.5 1959.93 233.81C1959.13 231.13 1958.32 228.45 1957.84 225.76C1957.36 223.08 1957.22 220.4 1957.03 217.71C1956.85 215.03 1956.77 211 1956.71 209.66Z" fill="none" stroke="#1a1a1a" stroke-width="2" stroke-linejoin="round"/>
<circle cx="1955.91" cy="334.93" r="16.6" fill="none" stroke="#666" stroke-width="2"/>
<line x1="1956.23" y1="147.19" x2="1956.23" y2="212.66" stroke="#000" stroke-width="2.4" />
<text x="1776.4" y="91.4" font-size="32.4" text-anchor="start" font-weight="normal" font-style="italic" fill="#000" transform="rotate(-90 1776.4 91.4)" >614</text>
<text x="1840.5" y="89" font-size="32.4" text-anchor="start" font-weight="normal" font-style="italic" fill="#000" transform="rotate(-90 1840.5 89)" >148</text>
<text x="1903.5" y="97.5" font-size="32.4" text-anchor="start" font-weight="normal" font-style="italic" fill="#000" transform="rotate(-90 1903.5 97.5)" >17912</text>
<text x="1967.7" y="95" font-size="32.4" text-anchor="start" font-weight="normal" font-style="italic" fill="#000" transform="rotate(-90 1967.7 95)" >4065</text>
<text x="1768.8" y="221.6" font-size="32.5" text-anchor="middle" font-weight="normal" font-style="normal" fill="#000" >a</text>
<text x="1831.5" y="222.3" font-size="32.5" text-anchor="middle" font-weight="normal" font-style="normal" fill="#000" >b</text>
<text x="1894.5" y="139.3" font-size="32.5" text-anchor="middle" font-weight="normal" font-style="normal" fill="#000" >b</text>
<text x="1955" y="139.3" font-size="32.5" text-anchor="middle" font-weight="normal" font-style="normal" fill="#000" >a</text>
<text x="1780.4" y="626.4" font-size="33.2" text-anchor="start" font-weight="normal" font-style="normal" fill="#000" transform="rotate(-90 1780.4 626.4)" >+eQTL<tspan font-size="22" dy="-11">gbM</tspan></text>
<text x="1845.3" y="617.3" font-size="33.2" text-anchor="start" font-weight="normal" font-style="normal" fill="#000" transform="rotate(-90 1845.3 617.3)" >-eQTL<tspan font-size="22" dy="-11">gbM</tspan></text>
<text x="1907.2" y="563.5" font-size="33.2" text-anchor="start" font-weight="normal" font-style="normal" fill="#000" transform="rotate(-90 1907.2 563.5)" >NA<tspan font-size="22" dy="-11">gbM</tspan></text>
<text x="1968.4" y="625.8" font-size="33.2" text-anchor="start" font-weight="normal" font-style="normal" fill="#000" transform="rotate(-90 1968.4 625.8)" >gbM&lt;10%</text>
<text x="1677" y="283.75" font-size="33" text-anchor="middle" font-weight="normal" font-style="normal" fill="#000" transform="rotate(-90 1677 283.75)" >log<tspan font-size="21" dy="7">2</tspan><tspan dy="-7"> (FPKM+1)</tspan></text>
<text x="1649" y="37.5" font-size="41" text-anchor="start" font-weight="bold" font-style="normal" fill="#000" >e</text>
<line x1="963" y1="812" x2="970" y2="812" stroke="#d2d2d2" stroke-width="2" />
<text x="953.5" y="822.3" font-size="33" text-anchor="end" font-weight="normal" font-style="normal" fill="#000" >0.15</text>
<line x1="963" y1="912.5" x2="970" y2="912.5" stroke="#d2d2d2" stroke-width="2" />
<text x="953.5" y="922.8" font-size="33" text-anchor="end" font-weight="normal" font-style="normal" fill="#000" >0.10</text>
<line x1="963" y1="1012" x2="970" y2="1012" stroke="#d2d2d2" stroke-width="2" />
<text x="953.5" y="1022.3" font-size="33" text-anchor="end" font-weight="normal" font-style="normal" fill="#000" >0.05</text>
<line x1="963" y1="1112.6" x2="970" y2="1112.6" stroke="#d2d2d2" stroke-width="2" />
<text x="953.5" y="1122.9" font-size="33" text-anchor="end" font-weight="normal" font-style="normal" fill="#000" >0</text>
<line x1="1003.8" y1="1126" x2="1003.8" y2="1133" stroke="#d2d2d2" stroke-width="2" />
<line x1="1061.2" y1="1126" x2="1061.2" y2="1133" stroke="#d2d2d2" stroke-width="2" />
<line x1="1118" y1="1126" x2="1118" y2="1133" stroke="#d2d2d2" stroke-width="2" />
<line x1="1175.5" y1="1126" x2="1175.5" y2="1133" stroke="#d2d2d2" stroke-width="2" />
<rect x="970" y="770.9" width="240.3" height="355.1" fill="none" stroke="#c0c0c0" stroke-width="2" />
<circle cx="1003.8" cy="1066.7" r="15.6" fill="#55EE33" stroke="#14601a" stroke-width="1.6"/>
<path d="M1002.6 1026.1L1001.8 1034.5L1000.8 1042.5L999.8 1046.7L996.8 1050L983 1066.5L983 1068.5L997.8 1080.5L1000.6 1083.2L1002.1 1086.5L1003.1 1090L1004.5 1090L1005.5 1086.5L1007 1083.2L1009.8 1080.5L1024.6 1068.5L1024.6 1066.5L1010.8 1050L1007.8 1046.7L1006.8 1042.5L1005.8 1034.5L1005 1026.1Z" fill="#55EE33" stroke="#14601a" stroke-width="2.2" stroke-linejoin="round"/>
<circle cx="1003.8" cy="1066.7" r="15.6" fill="none" stroke="#14601a" stroke-width="1.6"/>
<line x1="1003.8" y1="972" x2="1003.8" y2="1029.1" stroke="#000" stroke-width="2.4" />
<line x1="1003.8" y1="1087" x2="1003.8" y2="1099" stroke="#000" stroke-width="2.4" />
<circle cx="1061.2" cy="1066.7" r="15.6" fill="#2222EE" stroke="#12128c" stroke-width="1.6"/>
<path d="M1060 1026.1L1059.2 1034.5L1058.2 1042.5L1057.2 1046.7L1054.2 1050L1040.4 1066.5L1040.4 1068.5L1055.2 1080.5L1058 1083.2L1059.5 1086.5L1060.5 1090L1061.9 1090L1062.9 1086.5L1064.4 1083.2L1067.2 1080.5L1082 1068.5L1082 1066.5L1068.2 1050L1065.2 1046.7L1064.2 1042.5L1063.2 1034.5L1062.4 1026.1Z" fill="#2222EE" stroke="#12128c" stroke-width="2.2" stroke-linejoin="round"/>
<circle cx="1061.2" cy="1066.7" r="15.6" fill="none" stroke="#12128c" stroke-width="1.6"/>
<line x1="1061.2" y1="915" x2="1061.2" y2="1029.1" stroke="#000" stroke-width="2.4" />
<line x1="1061.2" y1="1087" x2="1061.2" y2="1092.5" stroke="#000" stroke-width="2.4" />
<circle cx="1118" cy="1066.7" r="15.6" fill="#FFCC33" stroke="#2a1e00" stroke-width="1.6"/>
<path d="M1116.8 1026.1L1116 1034.5L1115 1042.5L1114 1046.7L1111 1050L1097.2 1066.5L1097.2 1068.5L1112 1080.5L1114.8 1083.2L1116.3 1086.5L1117.3 1090L1118.7 1090L1119.7 1086.5L1121.2 1083.2L1124 1080.5L1138.8 1068.5L1138.8 1066.5L1125 1050L1122 1046.7L1121 1042.5L1120 1034.5L1119.2 1026.1Z" fill="#FFCC33" stroke="#2a1e00" stroke-width="2.2" stroke-linejoin="round"/>
<circle cx="1118" cy="1066.7" r="15.6" fill="none" stroke="#2a1e00" stroke-width="1.6"/>
<line x1="1118" y1="943.6" x2="1118" y2="1029.1" stroke="#000" stroke-width="2.4" />
<line x1="1118" y1="1087" x2="1118" y2="1105.8" stroke="#000" stroke-width="2.4" />
<path d="M1174.3 932.3C1174.23 936.3 1174.1 950.23 1173.9 956.3C1173.7 962.37 1173.4 964.63 1173.1 968.7C1172.8 972.77 1172.52 976.7 1172.1 980.7C1171.68 984.7 1171.32 988.28 1170.6 992.7C1169.88 997.12 1168.92 1002.37 1167.8 1007.2C1166.68 1012.03 1165.28 1016.85 1163.9 1021.7C1162.52 1026.55 1160.83 1031.47 1159.5 1036.3C1158.17 1041.13 1156.68 1046.7 1155.9 1050.7C1155.12 1054.7 1155.02 1057.87 1154.8 1060.3C1154.58 1062.73 1154.52 1063.47 1154.6 1065.3C1154.68 1067.13 1154.65 1068.87 1155.3 1071.3C1155.95 1073.73 1157.27 1077.23 1158.5 1079.9C1159.73 1082.57 1161.27 1084.88 1162.7 1087.3C1164.13 1089.72 1165.9 1092.4 1167.1 1094.4C1168.3 1096.4 1169.05 1097.85 1169.9 1099.3C1170.75 1100.75 1171.53 1101.93 1172.2 1103.1C1172.87 1104.27 1173.4 1105.2 1173.9 1106.3C1174.4 1107.4 1174.98 1109.13 1175.2 1109.7L1175.8 1109.7C1176.02 1109.13 1176.6 1107.4 1177.1 1106.3C1177.6 1105.2 1178.13 1104.27 1178.8 1103.1C1179.47 1101.93 1180.25 1100.75 1181.1 1099.3C1181.95 1097.85 1182.7 1096.4 1183.9 1094.4C1185.1 1092.4 1186.87 1089.72 1188.3 1087.3C1189.73 1084.88 1191.27 1082.57 1192.5 1079.9C1193.73 1077.23 1195.05 1073.73 1195.7 1071.3C1196.35 1068.87 1196.32 1067.13 1196.4 1065.3C1196.48 1063.47 1196.42 1062.73 1196.2 1060.3C1195.98 1057.87 1195.88 1054.7 1195.1 1050.7C1194.32 1046.7 1192.83 1041.13 1191.5 1036.3C1190.17 1031.47 1188.48 1026.55 1187.1 1021.7C1185.72 1016.85 1184.32 1012.03 1183.2 1007.2C1182.08 1002.37 1181.12 997.12 1180.4 992.7C1179.68 988.28 1179.32 984.7 1178.9 980.7C1178.48 976.7 1178.2 972.77 1177.9 968.7C1177.6 964.63 1177.3 962.37 1177.1 956.3C1176.9 950.23 1176.77 936.3 1176.7 932.3Z" fill="none" stroke="#1a1a1a" stroke-width="1.8" stroke-linejoin="round"/>
<circle cx="1175.5" cy="1055" r="16.6" fill="none" stroke="#666" stroke-width="1.8"/>
<line x1="1175.5" y1="787" x2="1175.5" y2="935.3" stroke="#000" stroke-width="2.6" />
<text x="1014.2" y="759.9" font-size="32.4" text-anchor="start" font-weight="normal" font-style="italic" fill="#000" transform="rotate(-90 1014.2 759.9)" >1534</text>
<text x="1073.5" y="752.1" font-size="32.4" text-anchor="start" font-weight="normal" font-style="italic" fill="#000" transform="rotate(-90 1073.5 752.1)" >712</text>
<text x="1131.7" y="759.9" font-size="32.4" text-anchor="start" font-weight="normal" font-style="italic" fill="#000" transform="rotate(-90 1131.7 759.9)" >16428</text>
<text x="1188.6" y="757.5" font-size="32.4" text-anchor="start" font-weight="normal" font-style="italic" fill="#000" transform="rotate(-90 1188.6 757.5)" >9899</text>
<text x="1005" y="965.7" font-size="32.5" text-anchor="middle" font-weight="normal" font-style="normal" fill="#000" >a</text>
<text x="1062.5" y="902.8" font-size="32.5" text-anchor="middle" font-weight="normal" font-style="normal" fill="#000" >a</text>
<text x="1118.5" y="932.3" font-size="32.5" text-anchor="middle" font-weight="normal" font-style="normal" fill="#000" >a</text>
<text x="1175.6" y="789.1" font-size="32.5" text-anchor="middle" font-weight="normal" font-style="normal" fill="#000" >b</text>
<text x="1019.4" y="1291.3" font-size="33.2" text-anchor="start" font-weight="normal" font-style="normal" fill="#000" transform="rotate(-90 1019.4 1291.3)" >+eQTL<tspan font-size="22" dy="-11">gbM</tspan></text>
<text x="1075.7" y="1282.2" font-size="33.2" text-anchor="start" font-weight="normal" font-style="normal" fill="#000" transform="rotate(-90 1075.7 1282.2)" >-eQTL<tspan font-size="22" dy="-11">gbM</tspan></text>
<text x="1131.6" y="1231.3" font-size="33.2" text-anchor="start" font-weight="normal" font-style="normal" fill="#000" transform="rotate(-90 1131.6 1231.3)" >NA<tspan font-size="22" dy="-11">gbM</tspan></text>
<text x="1188.8" y="1290.3" font-size="33.2" text-anchor="start" font-weight="normal" font-style="normal" fill="#000" transform="rotate(-90 1188.8 1290.3)" >gbM&lt;10%</text>
<text x="873.5" y="940" font-size="33.3" text-anchor="middle" font-weight="normal" font-style="normal" fill="#000" transform="rotate(-90 873.5 940)" >Frequency CG</text>
<text x="848.5" y="703" font-size="41" text-anchor="start" font-weight="bold" font-style="normal" fill="#000" >f</text>
<line x1="1361" y1="865" x2="1368" y2="865" stroke="#d2d2d2" stroke-width="2" />
<text x="1356.5" y="875.3" font-size="33" text-anchor="end" font-weight="normal" font-style="normal" fill="#000" >20</text>
<line x1="1361" y1="983.5" x2="1368" y2="983.5" stroke="#d2d2d2" stroke-width="2" />
<text x="1356.5" y="993.8" font-size="33" text-anchor="end" font-weight="normal" font-style="normal" fill="#000" >10</text>
<line x1="1361" y1="1101.5" x2="1368" y2="1101.5" stroke="#d2d2d2" stroke-width="2" />
<text x="1356.5" y="1111.8" font-size="33" text-anchor="end" font-weight="normal" font-style="normal" fill="#000" >0</text>
<line x1="1399" y1="1118" x2="1399" y2="1125" stroke="#d2d2d2" stroke-width="2" />
<line x1="1452.3" y1="1118" x2="1452.3" y2="1125" stroke="#d2d2d2" stroke-width="2" />
<line x1="1504.3" y1="1118" x2="1504.3" y2="1125" stroke="#d2d2d2" stroke-width="2" />
<line x1="1557.4" y1="1118" x2="1557.4" y2="1125" stroke="#d2d2d2" stroke-width="2" />
<rect x="1368" y="760.5" width="221.2" height="357.5" fill="none" stroke="#c0c0c0" stroke-width="2" />
<circle cx="1399" cy="1071.6" r="15" fill="#55EE33" stroke="#14601a" stroke-width="1.5"/>
<path d="M1398 1024.9L1396.6 1036.9L1394.6 1046.9L1392 1053.6L1386 1063.7L1380.6 1073.9L1380.6 1075.9L1385.5 1081.7L1389.7 1085.6L1394 1088.2L1396 1093.5L1398.5 1101.5L1399.5 1101.5L1402 1093.5L1404 1088.2L1408.3 1085.6L1412.5 1081.7L1417.4 1075.9L1417.4 1073.9L1412 1063.7L1406 1053.6L1403.4 1046.9L1401.4 1036.9L1400 1024.9Z" fill="#55EE33" stroke="#14601a" stroke-width="2.2" stroke-linejoin="round"/>
<circle cx="1399" cy="1071.6" r="15" fill="none" stroke="#14601a" stroke-width="1.5"/>
<line x1="1391.3" y1="1053.6" x2="1406.7" y2="1053.6" stroke="#14601a" stroke-width="1.3" />
<line x1="1388.2" y1="1086.3" x2="1409.8" y2="1086.3" stroke="#14601a" stroke-width="1.3" />
<line x1="1399" y1="925" x2="1399" y2="1027.9" stroke="#000" stroke-width="2.4" />
<circle cx="1452.3" cy="1071.6" r="15" fill="#2222EE" stroke="#12128c" stroke-width="1.5"/>
<path d="M1451.3 1024.9L1449.9 1036.9L1447.9 1046.9L1445.3 1053.6L1439.3 1063.7L1433.3 1073.9L1433.3 1075.9L1438.8 1081.7L1443 1085.6L1447.3 1088.2L1449.3 1093.5L1451.8 1101.5L1452.8 1101.5L1455.3 1093.5L1457.3 1088.2L1461.6 1085.6L1465.8 1081.7L1471.3 1075.9L1471.3 1073.9L1465.3 1063.7L1459.3 1053.6L1456.7 1046.9L1454.7 1036.9L1453.3 1024.9Z" fill="#2222EE" stroke="#12128c" stroke-width="2.2" stroke-linejoin="round"/>
<circle cx="1452.3" cy="1071.6" r="15" fill="none" stroke="#12128c" stroke-width="1.5"/>
<line x1="1444.6" y1="1053.6" x2="1460" y2="1053.6" stroke="#12128c" stroke-width="1.3" />
<line x1="1441.5" y1="1086.3" x2="1463.1" y2="1086.3" stroke="#12128c" stroke-width="1.3" />
<line x1="1452.3" y1="989" x2="1452.3" y2="1027.9" stroke="#000" stroke-width="2.4" />
<circle cx="1504.3" cy="1071.6" r="15" fill="#FFCC33" stroke="#2a1e00" stroke-width="1.5"/>
<path d="M1503.3 1024.9L1501.9 1036.9L1499.9 1046.9L1497.3 1053.6L1491.3 1063.7L1485 1073.9L1485 1075.9L1490.8 1081.7L1495 1085.6L1499.3 1088.2L1501.3 1093.5L1503.8 1101.5L1504.8 1101.5L1507.3 1093.5L1509.3 1088.2L1513.6 1085.6L1517.8 1081.7L1523.6 1075.9L1523.6 1073.9L1517.3 1063.7L1511.3 1053.6L1508.7 1046.9L1506.7 1036.9L1505.3 1024.9Z" fill="#FFCC33" stroke="#2a1e00" stroke-width="2.2" stroke-linejoin="round"/>
<circle cx="1504.3" cy="1071.6" r="15" fill="none" stroke="#2a1e00" stroke-width="1.5"/>
<line x1="1496.6" y1="1053.6" x2="1512" y2="1053.6" stroke="#2a1e00" stroke-width="1.3" />
<line x1="1493.5" y1="1086.3" x2="1515.1" y2="1086.3" stroke="#2a1e00" stroke-width="1.3" />
<line x1="1504.3" y1="777.4" x2="1504.3" y2="1027.9" stroke="#000" stroke-width="2.4" />
<path d="M1543.5 1098.2 L1557.5 1072.9 L1571.5 1098.2" fill="none" stroke="#222" stroke-width="1.8" stroke-linejoin="round"/>
<line x1="1538" y1="1098.2" x2="1577" y2="1098.2" stroke="#222" stroke-width="2" />
<line x1="1542.5" y1="1101.6" x2="1572.5" y2="1101.6" stroke="#444" stroke-width="1.4" />
<circle cx="1557.5" cy="1094.2" r="17" fill="none" stroke="#333" stroke-width="1.6"/>
<line x1="1557.5" y1="867" x2="1557.5" y2="1074.9" stroke="#000" stroke-width="2.4" />
<text x="1408.7" y="745.3" font-size="32.4" text-anchor="start" font-weight="normal" font-style="italic" fill="#000" transform="rotate(-90 1408.7 745.3)" >1534</text>
<text x="1457.6" y="735.6" font-size="32.4" text-anchor="start" font-weight="normal" font-style="italic" fill="#000" transform="rotate(-90 1457.6 735.6)" >712</text>
<text x="1512" y="744.1" font-size="32.4" text-anchor="start" font-weight="normal" font-style="italic" fill="#000" transform="rotate(-90 1512 744.1)" >16428</text>
<text x="1566.6" y="741.6" font-size="32.4" text-anchor="start" font-weight="normal" font-style="italic" fill="#000" transform="rotate(-90 1566.6 741.6)" >9899</text>
<text x="1396" y="917" font-size="32.5" text-anchor="middle" font-weight="normal" font-style="normal" fill="#000" >a</text>
<text x="1451" y="983.6" font-size="32.5" text-anchor="middle" font-weight="normal" font-style="normal" fill="#000" >a</text>
<text x="1502.5" y="777" font-size="32.5" text-anchor="middle" font-weight="normal" font-style="normal" fill="#000" >a</text>
<text x="1555.7" y="860.6" font-size="32.5" text-anchor="middle" font-weight="normal" font-style="normal" fill="#000" >b</text>
<text x="1409.4" y="1271.3" font-size="33.2" text-anchor="start" font-weight="normal" font-style="normal" fill="#000" transform="rotate(-90 1409.4 1271.3)" >+ QTL<tspan font-size="22" dy="-11">gbM</tspan></text>
<text x="1463.5" y="1267.1" font-size="33.2" text-anchor="start" font-weight="normal" font-style="normal" fill="#000" transform="rotate(-90 1463.5 1267.1)" >-eQTL<tspan font-size="22" dy="-11">gbM</tspan></text>
<text x="1515.2" y="1215.5" font-size="33.2" text-anchor="start" font-weight="normal" font-style="normal" fill="#000" transform="rotate(-90 1515.2 1215.5)" >NA<tspan font-size="22" dy="-11">gbM</tspan></text>
<text x="1565.2" y="1274.9" font-size="33.2" text-anchor="start" font-weight="normal" font-style="normal" fill="#000" transform="rotate(-90 1565.2 1274.9)" >gbM&lt;10%</text>
<text x="1308.7" y="936.5" font-size="33.3" text-anchor="middle" font-weight="normal" font-style="normal" fill="#000" transform="rotate(-90 1308.7 936.5)" >Gene length (Kb)</text>
<text x="1275.5" y="703.6" font-size="41" text-anchor="start" font-weight="bold" font-style="normal" fill="#000" >g</text>
<line x1="1724" y1="777.4" x2="1731" y2="777.4" stroke="#d2d2d2" stroke-width="2" />
<text x="1717.2" y="789.4" font-size="33" text-anchor="end" font-weight="normal" font-style="normal" fill="#000" >20</text>
<line x1="1724" y1="857.3" x2="1731" y2="857.3" stroke="#d2d2d2" stroke-width="2" />
<text x="1717.2" y="869.3" font-size="33" text-anchor="end" font-weight="normal" font-style="normal" fill="#000" >15</text>
<line x1="1724" y1="937.4" x2="1731" y2="937.4" stroke="#d2d2d2" stroke-width="2" />
<text x="1717.2" y="949.4" font-size="33" text-anchor="end" font-weight="normal" font-style="normal" fill="#000" >10</text>
<line x1="1724" y1="1018.2" x2="1731" y2="1018.2" stroke="#d2d2d2" stroke-width="2" />
<text x="1717.2" y="1030.2" font-size="33" text-anchor="end" font-weight="normal" font-style="normal" fill="#000" >5</text>
<line x1="1724" y1="1098.5" x2="1731" y2="1098.5" stroke="#d2d2d2" stroke-width="2" />
<text x="1717.2" y="1110.5" font-size="33" text-anchor="end" font-weight="normal" font-style="normal" fill="#000" >0</text>
<line x1="1767.4" y1="1114.7" x2="1767.4" y2="1121.7" stroke="#d2d2d2" stroke-width="2" />
<line x1="1829.2" y1="1114.7" x2="1829.2" y2="1121.7" stroke="#d2d2d2" stroke-width="2" />
<line x1="1890.3" y1="1114.7" x2="1890.3" y2="1121.7" stroke="#d2d2d2" stroke-width="2" />
<line x1="1952.5" y1="1114.7" x2="1952.5" y2="1121.7" stroke="#d2d2d2" stroke-width="2" />
<rect x="1731" y="760.5" width="259" height="354.2" fill="none" stroke="#c0c0c0" stroke-width="2" />
<circle cx="1767.52" cy="977.37" r="15.3" fill="#55EE33" stroke="#1c7a1c" stroke-width="2.4"/>
<path d="M1767.03 882.37C1766.98 884.25 1766.87 891.23 1766.71 893.64C1766.55 896.06 1766.51 894.99 1766.07 896.86C1765.63 898.74 1764.89 902.23 1764.06 904.92C1763.22 907.6 1762.38 910.28 1761.08 912.97C1759.77 915.65 1757.86 918.33 1756.25 921.02C1754.64 923.7 1752.72 926.38 1751.42 929.07C1750.11 931.75 1749.27 934.44 1748.44 937.12C1747.6 939.8 1746.89 942.49 1746.42 945.17C1745.95 947.85 1745.79 950.54 1745.62 953.22C1745.44 955.9 1745.18 958.59 1745.38 961.27C1745.58 963.96 1746.2 966.64 1746.83 969.32C1747.46 972.01 1748.29 974.69 1749.16 977.37C1750.03 980.06 1751.25 982.74 1752.06 985.42C1752.86 988.11 1753.43 990.79 1753.99 993.48C1754.56 996.16 1754.85 997.5 1755.44 1001.53C1756.03 1005.55 1756.86 1012.26 1757.53 1017.63C1758.2 1023 1758.88 1028.36 1759.47 1033.73C1760.06 1039.1 1760.61 1044.46 1761.08 1049.83C1761.55 1055.2 1761.91 1060.57 1762.28 1065.93C1762.66 1071.3 1763.02 1078.01 1763.33 1082.04C1763.64 1086.06 1763.87 1088.21 1764.14 1090.09C1764.4 1091.96 1764.65 1092.56 1764.94 1093.31C1765.24 1094.06 1765.75 1094.38 1765.91 1094.59L1769.13 1094.59C1769.29 1094.38 1769.8 1094.06 1770.09 1093.31C1770.39 1092.56 1770.63 1091.96 1770.9 1090.09C1771.17 1088.21 1771.39 1086.06 1771.7 1082.04C1772.01 1078.01 1772.37 1071.3 1772.75 1065.93C1773.13 1060.57 1773.49 1055.2 1773.96 1049.83C1774.43 1044.46 1774.98 1039.1 1775.57 1033.73C1776.16 1028.36 1776.83 1023 1777.5 1017.63C1778.17 1012.26 1779 1005.55 1779.59 1001.53C1780.18 997.5 1780.48 996.16 1781.04 993.48C1781.61 990.79 1782.17 988.11 1782.97 985.42C1783.78 982.74 1785 980.06 1785.87 977.37C1786.75 974.69 1787.58 972.01 1788.21 969.32C1788.84 966.64 1789.46 963.96 1789.66 961.27C1789.86 958.59 1789.59 955.9 1789.42 953.22C1789.24 950.54 1789.08 947.85 1788.61 945.17C1788.14 942.49 1787.43 939.8 1786.6 937.12C1785.77 934.44 1784.92 931.75 1783.62 929.07C1782.32 926.38 1780.4 923.7 1778.79 921.02C1777.18 918.33 1775.26 915.65 1773.96 912.97C1772.66 910.28 1771.81 907.6 1770.98 904.92C1770.15 902.23 1769.41 898.74 1768.97 896.86C1768.52 894.99 1768.48 896.06 1768.32 893.64C1768.16 891.23 1768.05 884.25 1768 882.37Z" fill="#55EE33" stroke="#14601a" stroke-width="2.2" stroke-linejoin="round"/>
<circle cx="1767.52" cy="977.37" r="15.3" fill="none" stroke="#1c7a1c" stroke-width="2.4"/>
<line x1="1767.52" y1="877.54" x2="1767.52" y2="885.37" stroke="#000" stroke-width="2.4" />
<circle cx="1829.35" cy="956.12" r="16.1" fill="#2222EE" stroke="#1a1ab5" stroke-width="2.6"/>
<path d="M1828.86 879.15C1828.81 880.76 1828.85 885.86 1828.54 888.81C1828.23 891.77 1827.68 894.18 1827.01 896.86C1826.34 899.55 1825.47 902.23 1824.52 904.92C1823.56 907.6 1822.44 910.28 1821.3 912.97C1820.16 915.65 1818.95 918.33 1817.67 921.02C1816.4 923.7 1814.92 926.38 1813.65 929.07C1812.37 931.75 1810.97 934.44 1810.03 937.12C1809.09 939.8 1808.4 943.02 1808.01 945.17C1807.62 947.32 1807.42 947.32 1807.69 950C1807.96 952.68 1808.83 958.05 1809.62 961.27C1810.41 964.49 1811.37 966.64 1812.44 969.32C1813.51 972.01 1814.92 974.69 1816.06 977.37C1817.2 980.06 1818.32 982.74 1819.28 985.42C1820.25 988.11 1821.12 990.79 1821.86 993.48C1822.6 996.16 1823.07 997.5 1823.71 1001.53C1824.36 1005.55 1825.2 1012.26 1825.72 1017.63C1826.25 1023 1826.57 1028.36 1826.85 1033.73C1827.13 1039.1 1827.27 1044.46 1827.42 1049.83C1827.56 1055.2 1827.63 1060.57 1827.74 1065.93C1827.85 1071.3 1827.98 1078.55 1828.06 1082.04C1828.14 1085.52 1828.11 1085.74 1828.22 1086.87C1828.33 1087.99 1828.62 1088.48 1828.7 1088.8L1829.99 1088.8C1830.07 1088.48 1830.37 1087.99 1830.48 1086.87C1830.58 1085.74 1830.56 1085.52 1830.64 1082.04C1830.72 1078.55 1830.85 1071.3 1830.96 1065.93C1831.07 1060.57 1831.13 1055.2 1831.28 1049.83C1831.43 1044.46 1831.56 1039.1 1831.84 1033.73C1832.13 1028.36 1832.45 1023 1832.97 1017.63C1833.49 1012.26 1834.34 1005.55 1834.98 1001.53C1835.63 997.5 1836.1 996.16 1836.84 993.48C1837.57 990.79 1838.45 988.11 1839.41 985.42C1840.38 982.74 1841.49 980.06 1842.63 977.37C1843.77 974.69 1845.18 972.01 1846.25 969.32C1847.33 966.64 1848.28 964.49 1849.07 961.27C1849.86 958.05 1850.74 952.68 1851 950C1851.27 947.32 1851.07 947.32 1850.68 945.17C1850.29 943.02 1849.61 939.8 1848.67 937.12C1847.73 934.44 1846.32 931.75 1845.05 929.07C1843.77 926.38 1842.3 923.7 1841.02 921.02C1839.75 918.33 1838.54 915.65 1837.4 912.97C1836.26 910.28 1835.13 907.6 1834.18 904.92C1833.23 902.23 1832.35 899.55 1831.68 896.86C1831.01 894.18 1830.46 891.77 1830.15 888.81C1829.84 885.86 1829.88 880.76 1829.83 879.15Z" fill="#2222EE" stroke="#12128c" stroke-width="2.2" stroke-linejoin="round"/>
<circle cx="1829.35" cy="956.12" r="16.1" fill="none" stroke="#1a1ab5" stroke-width="2.6"/>
<line x1="1829.35" y1="852.59" x2="1829.35" y2="882.15" stroke="#000" stroke-width="2.4" />
<circle cx="1889.89" cy="959.34" r="16.1" fill="#FFCC33" stroke="#4a3800" stroke-width="2.2"/>
<path d="M1889.73 875.93C1889.68 877.54 1889.53 883.45 1889.41 885.59C1889.29 887.74 1889.34 886.94 1889 888.81C1888.67 890.69 1888.11 894.18 1887.39 896.86C1886.68 899.55 1885.81 902.23 1884.74 904.92C1883.66 907.6 1882.38 910.28 1880.95 912.97C1879.53 915.65 1877.72 918.33 1876.2 921.02C1874.69 923.7 1873.05 926.38 1871.86 929.07C1870.66 931.75 1869.74 934.44 1869.04 937.12C1868.34 939.8 1867.94 943.02 1867.67 945.17C1867.4 947.32 1867.2 947.32 1867.43 950C1867.66 952.68 1868.3 958.05 1869.04 961.27C1869.78 964.49 1870.78 966.64 1871.86 969.32C1872.93 972.01 1874.34 974.69 1875.48 977.37C1876.62 980.06 1877.75 982.74 1878.7 985.42C1879.65 988.11 1880.51 990.79 1881.2 993.48C1881.88 996.16 1882.34 997.5 1882.81 1001.53C1883.28 1005.55 1883.69 1012.26 1884.01 1017.63C1884.34 1023 1884.55 1028.36 1884.74 1033.73C1884.93 1039.1 1885.01 1044.46 1885.14 1049.83C1885.27 1055.2 1885.4 1060.57 1885.54 1065.93C1885.69 1071.3 1885.78 1078.01 1886.03 1082.04C1886.27 1086.06 1886.6 1088.07 1886.99 1090.09C1887.38 1092.1 1887.94 1093.09 1888.36 1094.11C1888.78 1095.13 1889.3 1095.86 1889.49 1096.2L1890.94 1096.2C1891.12 1095.86 1891.65 1095.13 1892.06 1094.11C1892.48 1093.09 1893.04 1092.1 1893.43 1090.09C1893.82 1088.07 1894.16 1086.06 1894.4 1082.04C1894.64 1078.01 1894.73 1071.3 1894.88 1065.93C1895.03 1060.57 1895.15 1055.2 1895.28 1049.83C1895.42 1044.46 1895.5 1039.1 1895.69 1033.73C1895.87 1028.36 1896.09 1023 1896.41 1017.63C1896.73 1012.26 1897.15 1005.55 1897.62 1001.53C1898.09 997.5 1898.55 996.16 1899.23 993.48C1899.91 990.79 1900.77 988.11 1901.73 985.42C1902.68 982.74 1903.81 980.06 1904.95 977.37C1906.09 974.69 1907.5 972.01 1908.57 969.32C1909.64 966.64 1910.65 964.49 1911.39 961.27C1912.12 958.05 1912.77 952.68 1913 950C1913.22 947.32 1913.02 947.32 1912.76 945.17C1912.49 943.02 1912.08 939.8 1911.39 937.12C1910.69 934.44 1909.76 931.75 1908.57 929.07C1907.37 926.38 1905.74 923.7 1904.22 921.02C1902.7 918.33 1900.89 915.65 1899.47 912.97C1898.05 910.28 1896.76 907.6 1895.69 904.92C1894.61 902.23 1893.74 899.55 1893.03 896.86C1892.32 894.18 1891.76 890.69 1891.42 888.81C1891.08 886.94 1891.14 887.74 1891.02 885.59C1890.9 883.45 1890.75 877.54 1890.7 875.93Z" fill="#FFCC33" stroke="#2a1e00" stroke-width="2.2" stroke-linejoin="round"/>
<circle cx="1889.89" cy="959.34" r="16.1" fill="none" stroke="#4a3800" stroke-width="2.2"/>
<line x1="1890.21" y1="802.19" x2="1890.21" y2="878.93" stroke="#000" stroke-width="2.4" />
<path d="M1952.2 863.05C1952.15 864.66 1952.03 869.76 1951.88 872.71C1951.73 875.66 1951.68 878.08 1951.32 880.76C1950.96 883.45 1950.38 886.13 1949.71 888.81C1949.04 891.5 1948.18 894.18 1947.29 896.86C1946.41 899.55 1945.33 902.23 1944.39 904.92C1943.46 907.6 1942.58 910.28 1941.66 912.97C1940.73 915.65 1939.78 918.33 1938.84 921.02C1937.9 923.7 1936.91 926.38 1936.02 929.07C1935.14 931.75 1934.28 934.44 1933.53 937.12C1932.77 939.8 1932.04 942.49 1931.51 945.17C1930.99 947.85 1930.65 950.54 1930.39 953.22C1930.12 955.9 1929.85 958.59 1929.9 961.27C1929.96 963.96 1930.31 966.64 1930.71 969.32C1931.11 972.01 1931.77 974.69 1932.32 977.37C1932.87 980.06 1933.5 982.74 1934.01 985.42C1934.52 988.11 1935 990.79 1935.38 993.48C1935.75 996.16 1935.9 997.5 1936.26 1001.53C1936.63 1005.55 1937.16 1012.26 1937.55 1017.63C1937.94 1023 1938.49 1028.36 1938.6 1033.73C1938.71 1039.1 1938.53 1044.46 1938.2 1049.83C1937.86 1055.2 1936.91 1061.91 1936.59 1065.93C1936.26 1069.96 1936.13 1071.3 1936.26 1073.98C1936.4 1076.67 1936.67 1079.35 1937.39 1082.04C1938.12 1084.72 1939.64 1088.15 1940.61 1090.09C1941.58 1092.02 1942.33 1092.77 1943.19 1093.63C1944.05 1094.49 1945.33 1094.97 1945.76 1095.24L1959.61 1095.24C1960.04 1094.97 1961.33 1094.49 1962.19 1093.63C1963.05 1092.77 1963.8 1092.02 1964.76 1090.09C1965.73 1088.15 1967.26 1084.72 1967.98 1082.04C1968.71 1079.35 1968.98 1076.67 1969.11 1073.98C1969.25 1071.3 1969.11 1069.96 1968.79 1065.93C1968.47 1061.91 1967.51 1055.2 1967.18 1049.83C1966.84 1044.46 1966.67 1039.1 1966.78 1033.73C1966.88 1028.36 1967.43 1023 1967.82 1017.63C1968.21 1012.26 1968.75 1005.55 1969.11 1001.53C1969.47 997.5 1969.62 996.16 1970 993.48C1970.37 990.79 1970.86 988.11 1971.37 985.42C1971.88 982.74 1972.51 980.06 1973.06 977.37C1973.61 974.69 1974.26 972.01 1974.67 969.32C1975.07 966.64 1975.42 963.96 1975.47 961.27C1975.53 958.59 1975.26 955.9 1974.99 953.22C1974.72 950.54 1974.38 947.85 1973.86 945.17C1973.34 942.49 1972.6 939.8 1971.85 937.12C1971.1 934.44 1970.24 931.75 1969.35 929.07C1968.47 926.38 1967.47 923.7 1966.53 921.02C1965.6 918.33 1964.64 915.65 1963.72 912.97C1962.79 910.28 1961.92 907.6 1960.98 904.92C1960.04 902.23 1958.97 899.55 1958.08 896.86C1957.2 894.18 1956.34 891.5 1955.67 888.81C1955 886.13 1954.42 883.45 1954.06 880.76C1953.69 878.08 1953.64 875.66 1953.49 872.71C1953.34 869.76 1953.22 864.66 1953.17 863.05Z" fill="none" stroke="#1a1a1a" stroke-width="2" stroke-linejoin="round"/>
<circle cx="1952.69" cy="988.65" r="16.9" fill="none" stroke="#666" stroke-width="2"/>
<line x1="1952.69" y1="803.15" x2="1952.69" y2="866.05" stroke="#000" stroke-width="2.4" />
<text x="1775.2" y="751.4" font-size="32.4" text-anchor="start" font-weight="normal" font-style="italic" fill="#000" transform="rotate(-90 1775.2 751.4)" >1534</text>
<text x="1833.3" y="742.4" font-size="32.4" text-anchor="start" font-weight="normal" font-style="italic" fill="#000" transform="rotate(-90 1833.3 742.4)" >712</text>
<text x="1900" y="749.6" font-size="32.4" text-anchor="start" font-weight="normal" font-style="italic" fill="#000" transform="rotate(-90 1900 749.6)" >16428</text>
<text x="1965.3" y="747.6" font-size="32.4" text-anchor="start" font-weight="normal" font-style="italic" fill="#000" transform="rotate(-90 1965.3 747.6)" >4065</text>
<text x="1768.2" y="866.6" font-size="32.5" text-anchor="middle" font-weight="normal" font-style="normal" fill="#000" >a</text>
<text x="1829.7" y="841.8" font-size="32.5" text-anchor="middle" font-weight="normal" font-style="normal" fill="#000" >b</text>
<text x="1891.3" y="792.8" font-size="32.5" text-anchor="middle" font-weight="normal" font-style="normal" fill="#000" >b</text>
<text x="1952" y="792.8" font-size="32.5" text-anchor="middle" font-weight="normal" font-style="normal" fill="#000" >a</text>
<text x="1778.6" y="1279.1" font-size="33.2" text-anchor="start" font-weight="normal" font-style="normal" fill="#000" transform="rotate(-90 1778.6 1279.1)" >+eQTL<tspan font-size="22" dy="-11">gbM</tspan></text>
<text x="1841.3" y="1270" font-size="33.2" text-anchor="start" font-weight="normal" font-style="normal" fill="#000" transform="rotate(-90 1841.3 1270)" >-eQTL<tspan font-size="22" dy="-11">gbM</tspan></text>
<text x="1903.4" y="1216.3" font-size="33.2" text-anchor="start" font-weight="normal" font-style="normal" fill="#000" transform="rotate(-90 1903.4 1216.3)" >NA<tspan font-size="22" dy="-11">gbM</tspan></text>
<text x="1964.4" y="1279.1" font-size="33.2" text-anchor="start" font-weight="normal" font-style="normal" fill="#000" transform="rotate(-90 1964.4 1279.1)" >gbM&lt;10%</text>
<text x="1675.5" y="937.7" font-size="33" text-anchor="middle" font-weight="normal" font-style="normal" fill="#000" transform="rotate(-90 1675.5 937.7)" >log<tspan font-size="21" dy="7">2</tspan><tspan dy="-7"> (FPKM+1)</tspan></text>
<text x="1657" y="703" font-size="41" text-anchor="start" font-weight="bold" font-style="normal" fill="#000" >h</text>
<path d="M231.48 1644.77C232.28 1639.93 234.5 1625.4 236.32 1615.71C238.14 1606.03 240.36 1595.54 242.37 1586.66C244.39 1577.78 246.21 1570.11 248.43 1562.45C250.65 1554.78 253.27 1546.71 255.69 1540.65C258.11 1534.6 260.53 1530.16 262.95 1526.13C265.38 1522.09 267.8 1519.27 270.22 1516.44C272.64 1513.62 274.66 1511.6 277.48 1509.18C280.31 1506.76 283.94 1505.34 287.17 1501.91C290.4 1498.48 293.62 1491.54 296.85 1488.6C300.08 1485.65 302.91 1484.44 306.54 1484.24C310.17 1484.04 315.42 1485.45 318.64 1487.38C321.87 1489.32 323.89 1493.36 325.91 1495.86C327.93 1498.36 328.33 1501.99 330.75 1502.4C333.17 1502.8 337.21 1499.33 340.44 1498.28C343.66 1497.23 346.89 1495.5 350.12 1496.1C353.35 1496.71 356.98 1498.93 359.81 1501.91C362.63 1504.9 364.65 1508.37 367.07 1514.02C369.49 1519.67 371.91 1527.34 374.33 1535.81C376.76 1544.29 379.18 1554.78 381.6 1564.87C384.02 1574.96 386.44 1585.85 388.86 1596.34C391.28 1606.84 394.11 1620.15 396.13 1627.82C398.14 1635.49 399.35 1638.39 400.97 1642.35C402.58 1646.3 402.99 1649.94 405.81 1651.55C408.64 1653.16 413.48 1652.44 417.92 1652.03C422.36 1651.63 428.41 1650.34 432.45 1649.13C436.48 1647.92 438.9 1647.92 442.13 1644.77C445.36 1641.62 448.99 1635.49 451.82 1630.24C454.64 1625 456.66 1619.75 459.08 1613.29C461.5 1606.84 463.92 1599.17 466.34 1591.5C468.77 1583.83 471.19 1575.36 473.61 1567.29C476.03 1559.22 478.45 1549.94 480.87 1543.08C483.29 1536.21 485.71 1530.56 488.14 1526.13C490.56 1521.69 492.98 1521.28 495.4 1516.44C497.82 1511.6 500.24 1504.74 502.66 1497.07C505.08 1489.4 507.51 1479.31 509.93 1470.44C512.35 1461.56 514.97 1450.94 517.19 1443.8C519.41 1436.66 521.43 1430.28 523.24 1427.58C525.06 1424.87 526.27 1426.49 528.09 1427.58C529.9 1428.67 531.52 1432.22 534.14 1434.12C536.76 1436.01 540.4 1438.23 543.83 1438.96C547.26 1439.69 551.49 1439.69 554.72 1438.47C557.95 1437.26 560.57 1434.44 563.2 1431.69C565.82 1428.95 568.24 1425.84 570.46 1422.01C572.68 1418.18 575.5 1410.91 576.51 1408.69" fill="none" stroke="#E8746B" stroke-width="3.6" stroke-linecap="butt" stroke-linejoin="round"/>
<path d="M231.48 1551.55C232.69 1549.94 236.32 1544.29 238.74 1541.86C241.16 1539.44 243.38 1538.11 246 1537.02C248.63 1535.93 251.25 1534.92 254.48 1535.33C257.71 1535.73 261.95 1537.63 265.38 1539.44C268.81 1541.26 272.24 1546.02 275.06 1546.22C277.89 1546.42 279.9 1544.41 282.32 1540.65C284.75 1536.9 287.17 1528.35 289.59 1523.7C292.01 1519.06 293.62 1515.71 296.85 1512.81C300.08 1509.9 305.33 1506.47 308.96 1506.27C312.59 1506.07 315.01 1509.58 318.64 1511.6C322.28 1513.62 326.72 1516.36 330.75 1518.38C334.79 1520.4 339.23 1521.61 342.86 1523.7C346.49 1525.8 349.31 1527.74 352.54 1530.97C355.77 1534.2 359 1537.43 362.23 1543.08C365.46 1548.72 369.09 1557.6 371.91 1564.87C374.74 1572.13 376.76 1578.99 379.18 1586.66C381.6 1594.33 384.02 1602.8 386.44 1610.87C388.86 1618.94 391.28 1628.83 393.7 1635.08C396.13 1641.34 398.95 1645.5 400.97 1648.4C402.99 1651.31 402.99 1652.11 405.81 1652.52C408.64 1652.92 413.88 1651.91 417.92 1650.82C421.95 1649.73 425.99 1647.8 430.02 1645.98C434.06 1644.16 438.1 1642.35 442.13 1639.93C446.17 1637.51 450.61 1634.88 454.24 1631.45C457.87 1628.02 460.69 1624.79 463.92 1619.35C467.15 1613.9 470.38 1606.23 473.61 1598.77C476.84 1591.3 480.06 1582.62 483.29 1574.55C486.52 1566.48 489.75 1558.01 492.98 1550.34C496.21 1542.67 499.44 1535.81 502.66 1528.55C505.89 1521.28 509.12 1513.21 512.35 1506.76C515.58 1500.3 518.81 1494.65 522.03 1489.81C525.26 1484.96 528.49 1480.73 531.72 1477.7C534.95 1474.67 537.77 1473.46 541.4 1471.65C545.04 1469.83 549.48 1468.22 553.51 1466.8C557.55 1465.39 561.78 1463.98 565.62 1463.17C569.45 1462.36 574.7 1462.16 576.51 1461.96" fill="none" stroke="#1FA845" stroke-width="3.6" stroke-linecap="butt" stroke-linejoin="round"/>
<path d="M231.48 1524.43C233.09 1525.04 237.53 1527.18 241.16 1528.06C244.79 1528.95 248.83 1529.6 253.27 1529.76C257.71 1529.92 263.76 1529.44 267.8 1529.03C271.83 1528.63 274.25 1527.22 277.48 1527.34C280.71 1527.46 283.13 1528.63 287.17 1529.76C291.2 1530.89 296.85 1532.62 301.69 1534.12C306.54 1535.61 311.38 1537.43 316.22 1538.72C321.07 1540.01 325.5 1540.82 330.75 1541.86C336 1542.91 342.86 1542.99 347.7 1545.01C352.54 1547.03 356.17 1549.05 359.81 1553.97C363.44 1558.89 366.26 1567.09 369.49 1574.55C372.72 1582.02 375.95 1590.29 379.18 1598.77C382.41 1607.24 386.04 1618.14 388.86 1625.4C391.69 1632.66 393.5 1637.79 396.13 1642.35C398.75 1646.91 400.97 1650.94 404.6 1652.76C408.23 1654.58 413.28 1653.37 417.92 1653.24C422.56 1653.12 428.01 1652.56 432.45 1652.03C436.88 1651.51 440.52 1651.71 444.55 1650.1C448.59 1648.48 453.03 1646.46 456.66 1642.35C460.29 1638.23 463.12 1632.26 466.34 1625.4C469.57 1618.54 472.8 1610.06 476.03 1601.19C479.26 1592.31 482.49 1582.22 485.71 1572.13C488.94 1562.04 492.17 1551.15 495.4 1540.65C498.63 1530.16 501.86 1518.86 505.08 1509.18C508.31 1499.49 511.54 1490.61 514.77 1482.54C518 1474.47 521.23 1467.21 524.46 1460.75C527.68 1454.29 530.91 1449.05 534.14 1443.8C537.37 1438.56 540.6 1433.51 543.83 1429.27C547.05 1425.04 550.28 1421.61 553.51 1418.38C556.74 1415.15 559.97 1412.2 563.2 1409.9C566.42 1407.6 570.66 1405.67 572.88 1404.58C575.1 1403.49 575.91 1403.57 576.51 1403.37" fill="none" stroke="#6A9BE8" stroke-width="3.6" stroke-linecap="butt" stroke-linejoin="round"/>
<path d="M592.69 1448.64C593.29 1446.22 594.71 1439.36 596.32 1434.12C597.93 1428.87 600.36 1422.01 602.37 1417.17C604.39 1412.32 606.21 1408.29 608.43 1405.06C610.65 1401.83 613.27 1399.29 615.69 1397.8C618.11 1396.3 620.13 1395.9 622.95 1396.1C625.78 1396.3 629.41 1397.19 632.64 1399.01C635.87 1400.82 639.1 1405.06 642.32 1407C645.55 1408.93 648.38 1409.94 652.01 1410.63C655.64 1411.32 660.48 1409.62 664.12 1411.11C667.75 1412.61 670.98 1414.95 673.8 1419.59C676.63 1424.23 678.64 1432.5 681.07 1438.96C683.49 1445.42 685.91 1453.49 688.33 1458.33C690.75 1463.17 693.17 1466 695.59 1468.01C698.01 1470.03 700.64 1470.03 702.86 1470.44C705.08 1470.84 706.89 1468.82 708.91 1470.44C710.93 1472.05 712.95 1474.47 714.96 1480.12C716.98 1485.77 719 1495.86 721.02 1504.33C723.03 1512.81 725.05 1521.28 727.07 1530.97C729.09 1540.65 731.11 1552.36 733.12 1562.45C735.14 1572.53 737.16 1583.43 739.18 1591.5C741.19 1599.57 743.41 1606.15 745.23 1610.87C747.05 1615.59 748.66 1618.42 750.07 1619.83C751.49 1621.24 752.29 1622.05 753.7 1619.35C755.12 1616.64 756.53 1610.67 758.55 1603.61C760.56 1596.55 763.47 1583.23 765.81 1576.97C768.15 1570.72 770.57 1566.48 772.59 1566.08C774.61 1565.67 776.02 1570.11 777.92 1574.55C779.81 1578.99 781.95 1587.34 783.97 1592.71C785.99 1598.08 787.6 1604.33 790.02 1606.76C792.45 1609.18 795.67 1608.49 798.5 1607.24C801.32 1605.99 804.35 1600.74 806.97 1599.25C809.6 1597.76 811.82 1596.75 814.24 1598.28C816.66 1599.81 819.08 1604.33 821.5 1608.45C823.92 1612.57 826.34 1618.34 828.77 1622.98C831.19 1627.62 833.2 1632.46 836.03 1636.3C838.85 1640.13 842.89 1644.37 845.71 1645.98C848.54 1647.59 850.76 1647.39 852.98 1645.98C855.2 1644.57 857.01 1642.15 859.03 1637.51C861.05 1632.87 862.87 1623.79 865.08 1618.14C867.3 1612.49 869.93 1608.05 872.35 1603.61C874.77 1599.17 877.19 1597.55 879.61 1591.5C882.03 1585.45 884.25 1575.36 886.88 1567.29C889.5 1559.22 892.53 1549.94 895.35 1543.08C898.18 1536.21 900.8 1530.97 903.83 1526.13C906.85 1521.28 910.28 1517.45 913.51 1514.02C916.74 1510.59 919.97 1507.76 923.2 1505.54C926.42 1503.33 931.27 1501.51 932.88 1500.7" fill="none" stroke="#E8746B" stroke-width="3.6" stroke-linecap="butt" stroke-linejoin="round"/>
<path d="M591.48 1458.81C593.49 1458.73 599.14 1458.81 603.58 1458.33C608.02 1457.85 613.67 1456.92 618.11 1455.91C622.55 1454.9 626.99 1453.89 630.22 1452.28C633.45 1450.66 635.06 1447.72 637.48 1446.22C639.9 1444.73 642.32 1443.4 644.75 1443.32C647.17 1443.24 649.18 1443.84 652.01 1445.74C654.83 1447.64 658.47 1451.39 661.69 1454.7C664.92 1458.01 668.15 1462.16 671.38 1465.59C674.61 1469.02 677.84 1472.05 681.07 1475.28C684.29 1478.51 687.93 1482.34 690.75 1484.96C693.58 1487.59 695.59 1487.79 698.01 1491.02C700.44 1494.25 702.86 1498.89 705.28 1504.33C707.7 1509.78 710.12 1515.63 712.54 1523.7C714.96 1531.78 717.38 1543.48 719.81 1552.76C722.23 1562.04 724.65 1571.32 727.07 1579.39C729.49 1587.47 731.91 1594.73 734.33 1601.19C736.76 1607.64 739.18 1613.49 741.6 1618.14C744.02 1622.78 746.44 1626.81 748.86 1629.03C751.28 1631.25 753.7 1631.25 756.13 1631.45C758.55 1631.65 760.56 1631.86 763.39 1630.24C766.21 1628.63 769.85 1625.8 773.08 1621.77C776.3 1617.73 779.94 1611.88 782.76 1606.03C785.59 1600.18 787.6 1592.31 790.02 1586.66C792.45 1581.01 794.87 1575.96 797.29 1572.13C799.71 1568.3 801.73 1565.47 804.55 1563.66C807.38 1561.84 811.21 1561.11 814.24 1561.23C817.26 1561.36 819.48 1564.38 822.71 1564.38C825.94 1564.38 830.58 1563.17 833.61 1561.23C836.63 1559.3 838.05 1556.19 840.87 1552.76C843.7 1549.33 847.33 1544.49 850.56 1540.65C853.79 1536.82 857.22 1531.86 860.24 1529.76C863.27 1527.66 865.49 1527.26 868.72 1528.06C871.95 1528.87 875.78 1532.58 879.61 1534.6C883.45 1536.62 887.68 1538.15 891.72 1540.17C895.75 1542.19 899.79 1544.93 903.83 1546.71C907.86 1548.48 911.09 1549.9 915.93 1550.82C920.77 1551.75 930.06 1552.03 932.88 1552.28" fill="none" stroke="#1FA845" stroke-width="3.6" stroke-linecap="butt" stroke-linejoin="round"/>
<path d="M591.48 1407.48C593.49 1407.89 599.14 1409.1 603.58 1409.9C608.02 1410.71 613.27 1411.84 618.11 1412.32C622.95 1412.81 627.8 1412.49 632.64 1412.81C637.48 1413.13 642.32 1413.21 647.17 1414.26C652.01 1415.31 657.26 1417.01 661.69 1419.1C666.13 1421.2 669.77 1423.54 673.8 1426.85C677.84 1430.16 682.28 1434.12 685.91 1438.96C689.54 1443.8 692.36 1449.45 695.59 1455.91C698.82 1462.36 702.45 1470.44 705.28 1477.7C708.1 1484.96 710.12 1491.02 712.54 1499.49C714.96 1507.97 717.38 1518.46 719.81 1528.55C722.23 1538.64 724.65 1549.53 727.07 1560.02C729.49 1570.52 731.91 1581.82 734.33 1591.5C736.76 1601.19 739.18 1610.87 741.6 1618.14C744.02 1625.4 746.44 1631.33 748.86 1635.08C751.28 1638.84 753.91 1639.77 756.13 1640.65C758.35 1641.54 759.76 1642.55 762.18 1640.41C764.6 1638.27 767.22 1633.15 770.65 1627.82C774.08 1622.49 778.72 1614.5 782.76 1608.45C786.8 1602.4 790.83 1596.34 794.87 1591.5C798.9 1586.66 802.94 1582.82 806.97 1579.39C811.01 1575.96 815.04 1573.14 819.08 1570.92C823.12 1568.7 827.15 1567.89 831.19 1566.08C835.22 1564.26 839.26 1562.24 843.29 1560.02C847.33 1557.8 851.36 1555.06 855.4 1552.76C859.44 1550.46 863.47 1547.76 867.51 1546.22C871.54 1544.69 875.17 1544.08 879.61 1543.56C884.05 1543.03 889.7 1543.76 894.14 1543.08C898.58 1542.39 902.21 1541.06 906.25 1539.44C910.28 1537.83 913.91 1536.13 918.35 1533.39C922.79 1530.65 930.46 1524.71 932.88 1522.98" fill="none" stroke="#6A9BE8" stroke-width="3.6" stroke-linecap="butt" stroke-linejoin="round"/>
<line x1="206" y1="1357" x2="215" y2="1357" stroke="#9b9b9b" stroke-width="2.4" />
<text x="201.4" y="1371.2" font-size="33.4" text-anchor="end" font-weight="normal" font-style="normal" fill="#000" >0.5</text>
<line x1="206" y1="1416" x2="215" y2="1416" stroke="#9b9b9b" stroke-width="2.4" />
<text x="201.4" y="1430.2" font-size="33.4" text-anchor="end" font-weight="normal" font-style="normal" fill="#000" >0.4</text>
<line x1="206" y1="1475.8" x2="215" y2="1475.8" stroke="#9b9b9b" stroke-width="2.4" />
<text x="201.4" y="1490" font-size="33.4" text-anchor="end" font-weight="normal" font-style="normal" fill="#000" >0.3</text>
<line x1="206" y1="1535" x2="215" y2="1535" stroke="#9b9b9b" stroke-width="2.4" />
<text x="201.4" y="1549.2" font-size="33.4" text-anchor="end" font-weight="normal" font-style="normal" fill="#000" >0.2</text>
<line x1="206" y1="1594.4" x2="215" y2="1594.4" stroke="#9b9b9b" stroke-width="2.4" />
<text x="201.4" y="1608.6" font-size="33.4" text-anchor="end" font-weight="normal" font-style="normal" fill="#000" >0.1</text>
<line x1="206" y1="1653.2" x2="215" y2="1653.2" stroke="#9b9b9b" stroke-width="2.4" />
<text x="201.4" y="1667.4" font-size="33.4" text-anchor="end" font-weight="normal" font-style="normal" fill="#000" >0</text>
<line x1="231.6" y1="1668.5" x2="231.6" y2="1675.5" stroke="#9b9b9b" stroke-width="3.2" />
<line x1="404.5" y1="1668.5" x2="404.5" y2="1675.5" stroke="#9b9b9b" stroke-width="3.2" />
<line x1="576.8" y1="1668.5" x2="576.8" y2="1675.5" stroke="#9b9b9b" stroke-width="3.2" />
<line x1="759.8" y1="1668.5" x2="759.8" y2="1675.5" stroke="#9b9b9b" stroke-width="3.2" />
<line x1="932.6" y1="1668.5" x2="932.6" y2="1675.5" stroke="#9b9b9b" stroke-width="3.2" />
<line x1="318" y1="1668.5" x2="318" y2="1675" stroke="#9b9b9b" stroke-width="2.8" />
<line x1="490.5" y1="1668.5" x2="490.5" y2="1675" stroke="#9b9b9b" stroke-width="2.8" />
<line x1="675" y1="1668.5" x2="675" y2="1675" stroke="#9b9b9b" stroke-width="2.8" />
<line x1="845.4" y1="1668.5" x2="845.4" y2="1675" stroke="#9b9b9b" stroke-width="2.8" />
<line x1="213.3" y1="1343.3" x2="952" y2="1343.3" stroke="#9b9b9b" stroke-width="2.6" />
<line x1="213.3" y1="1668.5" x2="952" y2="1668.5" stroke="#9b9b9b" stroke-width="2.6" />
<line x1="215" y1="1343.3" x2="215" y2="1668.5" stroke="#9b9b9b" stroke-width="3.4" />
<line x1="950.3" y1="1343.3" x2="950.3" y2="1668.5" stroke="#9b9b9b" stroke-width="3.4" />
<text x="180.4" y="1706.3" font-size="33.2" text-anchor="start" font-weight="normal" font-style="normal" fill="#000" >-2000</text>
<text x="366" y="1693.3" font-size="22" text-anchor="start" font-weight="bold" font-style="normal" fill="#000" >5&#8217;</text>
<text x="395.3" y="1706.3" font-size="33.2" text-anchor="start" font-weight="normal" font-style="normal" fill="#000" >0</text>
<text x="539.4" y="1706.3" font-size="33.2" text-anchor="start" font-weight="normal" font-style="normal" fill="#000" >2000</text>
<text x="752.4" y="1706.3" font-size="33.2" text-anchor="start" font-weight="normal" font-style="normal" fill="#000" >0</text>
<text x="776.6" y="1693.3" font-size="22" text-anchor="start" font-weight="bold" font-style="normal" fill="#000" >3&#8217;</text>
<text x="879.6" y="1706.3" font-size="33.2" text-anchor="start" font-weight="normal" font-style="normal" fill="#000" >-2000</text>
<text x="373.5" y="1764.9" font-size="33.6" text-anchor="start" font-weight="normal" font-style="normal" fill="#000" >Distance along gene (bp)</text>
<text x="127.9" y="1511.5" font-size="33" text-anchor="middle" font-weight="normal" font-style="normal" fill="#000" transform="rotate(-90 127.9 1511.5)" >mCG fraction</text>
<line x1="294.4" y1="1403.1" x2="307.7" y2="1403.1" stroke="#E8746B" stroke-width="3" />
<text x="317.4" y="1407.8" font-size="24.4" text-anchor="start" font-weight="normal" font-style="normal" fill="#000" >-eQTL</text>
<line x1="294.4" y1="1423.7" x2="307.7" y2="1423.7" stroke="#1FA845" stroke-width="3.6" />
<text x="316.2" y="1433" font-size="24.4" text-anchor="start" font-weight="normal" font-style="normal" fill="#000" >+eQTL</text>
<line x1="294.4" y1="1443.8" x2="307.7" y2="1443.8" stroke="#6A9BE8" stroke-width="3" />
<text x="317.4" y="1456.3" font-size="24.4" text-anchor="start" font-weight="normal" font-style="normal" fill="#000" >NA</text>
<text x="2" y="1378.4" font-size="41" text-anchor="start" font-weight="bold" font-style="normal" fill="#000" >i</text>
<path d="M1209.54 1527.34C1211.88 1527.13 1218.82 1526.21 1223.58 1526.13C1228.35 1526.05 1233.27 1526.13 1238.11 1526.85C1242.95 1527.58 1247.8 1529.48 1252.64 1530.48C1257.48 1531.49 1262.32 1531.82 1267.17 1532.91C1272.01 1534 1276.45 1535.81 1281.69 1537.02C1286.94 1538.23 1294.21 1540.05 1298.64 1540.17C1303.08 1540.29 1305.5 1538.15 1308.33 1537.75C1311.15 1537.34 1312.77 1536.66 1315.59 1537.75C1318.42 1538.84 1322.05 1541.58 1325.28 1544.29C1328.51 1546.99 1331.74 1550.34 1334.96 1553.97C1338.19 1557.6 1341.42 1560.23 1344.65 1566.08C1347.88 1571.93 1351.11 1581.61 1354.33 1589.08C1357.56 1596.55 1360.79 1604.01 1364.02 1610.87C1367.25 1617.73 1370.48 1624.59 1373.7 1630.24C1376.93 1635.89 1380.16 1641.14 1383.39 1644.77C1386.62 1648.4 1386.62 1650.74 1393.08 1652.03C1399.53 1653.33 1415.67 1654.33 1422.13 1652.52C1428.59 1650.7 1428.59 1645.05 1431.82 1641.14C1435.04 1637.22 1438.27 1634.48 1441.5 1629.03C1444.73 1623.58 1447.96 1616.32 1451.19 1608.45C1454.41 1600.58 1457.64 1590.69 1460.87 1581.82C1464.1 1572.94 1467.33 1564.06 1470.56 1555.18C1473.79 1546.3 1477.01 1537.02 1480.24 1528.55C1483.47 1520.07 1486.7 1511.6 1489.93 1504.33C1493.16 1497.07 1496.38 1491.42 1499.61 1484.96C1502.84 1478.51 1506.07 1471.65 1509.3 1465.59C1512.53 1459.54 1515.75 1453.89 1518.98 1448.64C1522.21 1443.4 1525.44 1438.56 1528.67 1434.12C1531.9 1429.68 1535.13 1425.64 1538.35 1422.01C1541.58 1418.38 1544.89 1414.95 1548.04 1412.32C1551.19 1409.7 1555.71 1407.28 1557.24 1406.27" fill="none" stroke="#E8746B" stroke-width="3.6" stroke-linecap="butt" stroke-linejoin="round"/>
<path d="M1209.54 1526.61C1211.48 1525.52 1217.21 1521.85 1221.16 1520.07C1225.12 1518.3 1228.83 1517.09 1233.27 1515.96C1237.71 1514.83 1242.95 1513.94 1247.8 1513.29C1252.64 1512.65 1257.48 1512.08 1262.32 1512.08C1267.17 1512.08 1272.01 1512.77 1276.85 1513.29C1281.69 1513.82 1286.54 1514.42 1291.38 1515.23C1296.22 1516.04 1301.87 1517.01 1305.91 1518.14C1309.94 1519.27 1312.36 1519.87 1315.59 1522.01C1318.82 1524.15 1322.05 1527.46 1325.28 1530.97C1328.51 1534.48 1331.74 1538.64 1334.96 1543.08C1338.19 1547.51 1341.42 1550.74 1344.65 1557.6C1347.88 1564.46 1351.11 1576.17 1354.33 1584.24C1357.56 1592.31 1360.79 1598.77 1364.02 1606.03C1367.25 1613.29 1370.48 1621.77 1373.7 1627.82C1376.93 1633.87 1380.16 1638.39 1383.39 1642.35C1386.62 1646.3 1389.85 1649.69 1393.08 1651.55C1396.3 1653.41 1398.32 1653.41 1402.76 1653.49C1407.2 1653.57 1414.87 1654.29 1419.71 1652.03C1424.55 1649.77 1428.18 1643.96 1431.82 1639.93C1435.45 1635.89 1438.27 1633.07 1441.5 1627.82C1444.73 1622.57 1447.96 1615.71 1451.19 1608.45C1454.41 1601.19 1457.64 1592.31 1460.87 1584.24C1464.1 1576.17 1467.33 1568.1 1470.56 1560.02C1473.79 1551.95 1477.01 1544.29 1480.24 1535.81C1483.47 1527.34 1486.7 1516.84 1489.93 1509.18C1493.16 1501.51 1496.38 1495.86 1499.61 1489.81C1502.84 1483.75 1506.07 1477.7 1509.3 1472.86C1512.53 1468.01 1515.75 1464.38 1518.98 1460.75C1522.21 1457.12 1525.44 1454.09 1528.67 1451.07C1531.9 1448.04 1535.13 1445.21 1538.35 1442.59C1541.58 1439.97 1544.89 1437.06 1548.04 1435.33C1551.19 1433.59 1555.71 1432.7 1557.24 1432.18" fill="none" stroke="#1FA845" stroke-width="3.6" stroke-linecap="butt" stroke-linejoin="round"/>
<path d="M1209.54 1528.06C1211.88 1528.14 1218.82 1528.26 1223.58 1528.55C1228.35 1528.83 1233.27 1529.27 1238.11 1529.76C1242.95 1530.24 1247.8 1530.85 1252.64 1531.45C1257.48 1532.06 1262.32 1532.66 1267.17 1533.39C1272.01 1534.12 1276.45 1534.92 1281.69 1535.81C1286.94 1536.7 1293.4 1537.71 1298.64 1538.72C1303.89 1539.73 1308.73 1539.73 1313.17 1541.86C1317.61 1544 1321.65 1547.92 1325.28 1551.55C1328.91 1555.18 1331.74 1560.23 1334.96 1563.66C1338.19 1567.09 1341.42 1567.09 1344.65 1572.13C1347.88 1577.18 1351.11 1586.86 1354.33 1593.92C1357.56 1600.98 1360.79 1608.05 1364.02 1614.5C1367.25 1620.96 1370.48 1627.42 1373.7 1632.66C1376.93 1637.91 1380.16 1642.63 1383.39 1645.98C1386.62 1649.33 1386.62 1651.63 1393.08 1652.76C1399.53 1653.89 1415.67 1654.5 1422.13 1652.76C1428.59 1651.03 1428.59 1646.3 1431.82 1642.35C1435.04 1638.39 1438.27 1634.68 1441.5 1629.03C1444.73 1623.38 1447.96 1616.32 1451.19 1608.45C1454.41 1600.58 1457.64 1591.1 1460.87 1581.82C1464.1 1572.53 1467.33 1562.45 1470.56 1552.76C1473.79 1543.08 1477.01 1532.99 1480.24 1523.7C1483.47 1514.42 1486.7 1505.54 1489.93 1497.07C1493.16 1488.6 1496.38 1480.12 1499.61 1472.86C1502.84 1465.59 1506.07 1459.54 1509.3 1453.49C1512.53 1447.43 1515.75 1441.58 1518.98 1436.54C1522.21 1431.49 1525.44 1427.26 1528.67 1423.22C1531.9 1419.18 1535.13 1415.55 1538.35 1412.32C1541.58 1409.1 1544.89 1405.87 1548.04 1403.85C1551.19 1401.83 1555.71 1400.82 1557.24 1400.22" fill="none" stroke="#6A9BE8" stroke-width="3.6" stroke-linecap="butt" stroke-linejoin="round"/>
<path d="M1565.42 1415.96C1567.24 1414.54 1572.49 1409.98 1576.32 1407.48C1580.15 1404.98 1584.39 1402.44 1588.43 1400.94C1592.46 1399.45 1596.5 1398.77 1600.53 1398.52C1604.57 1398.28 1608.6 1398.6 1612.64 1399.49C1616.67 1400.38 1620.71 1401.91 1624.75 1403.85C1628.78 1405.79 1633.22 1408.29 1636.85 1411.11C1640.48 1413.94 1643.31 1416.56 1646.54 1420.8C1649.77 1425.04 1652.99 1430.69 1656.22 1436.54C1659.45 1442.39 1662.68 1448.64 1665.91 1455.91C1669.14 1463.17 1672.36 1470.44 1675.59 1480.12C1678.82 1489.81 1682.05 1502.72 1685.28 1514.02C1688.51 1525.32 1691.74 1537.02 1694.96 1547.92C1698.19 1558.81 1701.42 1570.52 1704.65 1579.39C1707.88 1588.27 1711.11 1594.53 1714.33 1601.19C1717.56 1607.85 1720.79 1614.58 1724.02 1619.35C1727.25 1624.11 1730.48 1628.55 1733.7 1629.76C1736.93 1630.97 1740.16 1628.95 1743.39 1626.61C1746.62 1624.27 1749.85 1619.95 1753.08 1615.71C1756.3 1611.48 1759.53 1606.03 1762.76 1601.19C1765.99 1596.34 1769.22 1590.69 1772.45 1586.66C1775.67 1582.62 1778.9 1580.2 1782.13 1576.97C1785.36 1573.74 1788.59 1570.92 1791.82 1567.29C1795.04 1563.66 1798.27 1558.81 1801.5 1555.18C1804.73 1551.55 1807.96 1547.72 1811.19 1545.5C1814.41 1543.28 1816.84 1542.75 1820.87 1541.86C1824.91 1540.98 1830.56 1541.1 1835.4 1540.17C1840.24 1539.24 1845.08 1537.63 1849.93 1536.3C1854.77 1534.96 1859.61 1533.47 1864.46 1532.18C1869.3 1530.89 1874.14 1529.96 1878.98 1528.55C1883.83 1527.13 1889.15 1524.83 1893.51 1523.7C1897.87 1522.57 1903.2 1522.09 1905.13 1521.77" fill="none" stroke="#E8746B" stroke-width="3.6" stroke-linecap="butt" stroke-linejoin="round"/>
<path d="M1565.42 1432.91C1567.24 1432.5 1572.49 1431.29 1576.32 1430.48C1580.15 1429.68 1584.39 1428.35 1588.43 1428.06C1592.46 1427.78 1596.5 1428.26 1600.53 1428.79C1604.57 1429.31 1608.6 1430.12 1612.64 1431.21C1616.67 1432.3 1620.71 1434.04 1624.75 1435.33C1628.78 1436.62 1633.22 1437.22 1636.85 1438.96C1640.48 1440.69 1643.31 1442.91 1646.54 1445.74C1649.77 1448.56 1652.99 1451.39 1656.22 1455.91C1659.45 1460.43 1662.68 1466 1665.91 1472.86C1669.14 1479.72 1672.36 1488.6 1675.59 1497.07C1678.82 1505.54 1682.05 1514.02 1685.28 1523.7C1688.51 1533.39 1691.74 1545.5 1694.96 1555.18C1698.19 1564.87 1701.42 1573.74 1704.65 1581.82C1707.88 1589.89 1711.11 1597.15 1714.33 1603.61C1717.56 1610.06 1720.79 1616.2 1724.02 1620.56C1727.25 1624.92 1730.48 1628.87 1733.7 1629.76C1736.93 1630.65 1740.16 1628.43 1743.39 1625.88C1746.62 1623.34 1749.85 1618.82 1753.08 1614.5C1756.3 1610.19 1759.53 1605.02 1762.76 1599.98C1765.99 1594.93 1769.22 1588.68 1772.45 1584.24C1775.67 1579.8 1778.9 1576.77 1782.13 1573.34C1785.36 1569.91 1788.59 1566.68 1791.82 1563.66C1795.04 1560.63 1798.27 1557.6 1801.5 1555.18C1804.73 1552.76 1807.96 1550.74 1811.19 1549.13C1814.41 1547.51 1816.84 1546.59 1820.87 1545.5C1824.91 1544.41 1830.56 1543.32 1835.4 1542.59C1840.24 1541.86 1845.08 1541.46 1849.93 1541.14C1854.77 1540.82 1859.61 1540.65 1864.46 1540.65C1869.3 1540.65 1874.14 1540.73 1878.98 1541.14C1883.83 1541.54 1889.15 1542.43 1893.51 1543.08C1897.87 1543.72 1903.2 1544.69 1905.13 1545.01" fill="none" stroke="#1FA845" stroke-width="3.6" stroke-linecap="butt" stroke-linejoin="round"/>
<path d="M1565.42 1408.69C1567.24 1408.17 1572.49 1406.35 1576.32 1405.54C1580.15 1404.74 1584.39 1403.93 1588.43 1403.85C1592.46 1403.77 1596.5 1404.37 1600.53 1405.06C1604.57 1405.75 1608.6 1406.63 1612.64 1407.97C1616.67 1409.3 1620.71 1411.44 1624.75 1413.05C1628.78 1414.67 1633.22 1415.67 1636.85 1417.65C1640.48 1419.63 1643.31 1421.16 1646.54 1424.92C1649.77 1428.67 1652.99 1434.4 1656.22 1440.17C1659.45 1445.94 1662.68 1452.48 1665.91 1459.54C1669.14 1466.6 1672.36 1473.06 1675.59 1482.54C1678.82 1492.03 1682.05 1505.14 1685.28 1516.44C1688.51 1527.74 1691.74 1539.44 1694.96 1550.34C1698.19 1561.23 1701.42 1572.94 1704.65 1581.82C1707.88 1590.69 1711.11 1596.95 1714.33 1603.61C1717.56 1610.27 1720.79 1616.92 1724.02 1621.77C1727.25 1626.61 1730.48 1631.45 1733.7 1632.66C1736.93 1633.87 1740.16 1631.45 1743.39 1629.03C1746.62 1626.61 1749.85 1622.37 1753.08 1618.14C1756.3 1613.9 1759.53 1608.25 1762.76 1603.61C1765.99 1598.97 1769.22 1594.12 1772.45 1590.29C1775.67 1586.46 1778.5 1583.83 1782.13 1580.61C1785.76 1577.38 1790.2 1573.74 1794.24 1570.92C1798.27 1568.1 1802.31 1565.88 1806.34 1563.66C1810.38 1561.44 1814.41 1559.42 1818.45 1557.6C1822.49 1555.79 1826.52 1554.37 1830.56 1552.76C1834.59 1551.15 1838.63 1549.45 1842.66 1547.92C1846.7 1546.38 1850.73 1544.97 1854.77 1543.56C1858.81 1542.15 1862.84 1540.82 1866.88 1539.44C1870.91 1538.07 1874.54 1536.94 1878.98 1535.33C1883.42 1533.71 1889.15 1531.29 1893.51 1529.76C1897.87 1528.22 1903.2 1526.73 1905.13 1526.13" fill="none" stroke="#6A9BE8" stroke-width="3.6" stroke-linecap="butt" stroke-linejoin="round"/>
<line x1="1184" y1="1358.8" x2="1193" y2="1358.8" stroke="#9b9b9b" stroke-width="2.4" />
<text x="1176.8" y="1370.3" font-size="33.4" text-anchor="end" font-weight="normal" font-style="normal" fill="#000" >0.5</text>
<line x1="1184" y1="1416.8" x2="1193" y2="1416.8" stroke="#9b9b9b" stroke-width="2.4" />
<text x="1176.8" y="1428.3" font-size="33.4" text-anchor="end" font-weight="normal" font-style="normal" fill="#000" >0.4</text>
<line x1="1184" y1="1476.4" x2="1193" y2="1476.4" stroke="#9b9b9b" stroke-width="2.4" />
<text x="1176.8" y="1487.9" font-size="33.4" text-anchor="end" font-weight="normal" font-style="normal" fill="#000" >0.3</text>
<line x1="1184" y1="1535.2" x2="1193" y2="1535.2" stroke="#9b9b9b" stroke-width="2.4" />
<text x="1176.8" y="1546.7" font-size="33.4" text-anchor="end" font-weight="normal" font-style="normal" fill="#000" >0.2</text>
<line x1="1184" y1="1594.5" x2="1193" y2="1594.5" stroke="#9b9b9b" stroke-width="2.4" />
<text x="1176.8" y="1606" font-size="33.4" text-anchor="end" font-weight="normal" font-style="normal" fill="#000" >0.1</text>
<line x1="1184" y1="1653.5" x2="1193" y2="1653.5" stroke="#9b9b9b" stroke-width="2.4" />
<text x="1176.8" y="1665" font-size="33.4" text-anchor="end" font-weight="normal" font-style="normal" fill="#000" >0</text>
<line x1="1209.3" y1="1668.2" x2="1209.3" y2="1675.2" stroke="#9b9b9b" stroke-width="3.2" />
<line x1="1383.8" y1="1668.2" x2="1383.8" y2="1675.2" stroke="#9b9b9b" stroke-width="3.2" />
<line x1="1557.4" y1="1668.2" x2="1557.4" y2="1675.2" stroke="#9b9b9b" stroke-width="3.2" />
<line x1="1732" y1="1668.2" x2="1732" y2="1675.2" stroke="#9b9b9b" stroke-width="3.2" />
<line x1="1905.1" y1="1668.2" x2="1905.1" y2="1675.2" stroke="#9b9b9b" stroke-width="3.2" />
<line x1="1297" y1="1668.2" x2="1297" y2="1674.7" stroke="#9b9b9b" stroke-width="2.8" />
<line x1="1470.8" y1="1668.2" x2="1470.8" y2="1674.7" stroke="#9b9b9b" stroke-width="2.8" />
<line x1="1645" y1="1668.2" x2="1645" y2="1674.7" stroke="#9b9b9b" stroke-width="2.8" />
<line x1="1817" y1="1668.2" x2="1817" y2="1674.7" stroke="#9b9b9b" stroke-width="2.8" />
<line x1="1191.3" y1="1344" x2="1924.1" y2="1344" stroke="#9b9b9b" stroke-width="2.6" />
<line x1="1191.3" y1="1668.2" x2="1924.1" y2="1668.2" stroke="#9b9b9b" stroke-width="2.6" />
<line x1="1193" y1="1344" x2="1193" y2="1668.2" stroke="#9b9b9b" stroke-width="3.4" />
<line x1="1922.4" y1="1344" x2="1922.4" y2="1668.2" stroke="#9b9b9b" stroke-width="3.4" />
<text x="1167.3" y="1708.9" font-size="33.2" text-anchor="start" font-weight="normal" font-style="normal" fill="#000" >-2000</text>
<text x="1354.4" y="1695.9" font-size="22" text-anchor="start" font-weight="bold" font-style="normal" fill="#000" >5&#8217;</text>
<text x="1374.8" y="1708.9" font-size="33.2" text-anchor="start" font-weight="normal" font-style="normal" fill="#000" >0</text>
<text x="1516.6" y="1708.9" font-size="33.2" text-anchor="start" font-weight="normal" font-style="normal" fill="#000" >2000</text>
<text x="1716.8" y="1708.9" font-size="33.2" text-anchor="start" font-weight="normal" font-style="normal" fill="#000" >0</text>
<text x="1741.8" y="1695.9" font-size="22" text-anchor="start" font-weight="bold" font-style="normal" fill="#000" >3&#8217;</text>
<text x="1850.1" y="1708.9" font-size="33.2" text-anchor="start" font-weight="normal" font-style="normal" fill="#000" >-2000</text>
<text x="1398.5" y="1751.9" font-size="33.6" text-anchor="start" font-weight="normal" font-style="normal" fill="#000" >Distance along gene (bp)</text>
<text x="1106.8" y="1510.6" font-size="33" text-anchor="middle" font-weight="normal" font-style="normal" fill="#000" transform="rotate(-90 1106.8 1510.6)" >mCG fraction</text>
<line x1="1273.2" y1="1403.9" x2="1286.5" y2="1403.9" stroke="#E8746B" stroke-width="3" />
<text x="1297" y="1406.6" font-size="24.4" text-anchor="start" font-weight="normal" font-style="normal" fill="#000" >-eQTL</text>
<line x1="1273.2" y1="1424.5" x2="1286.5" y2="1424.5" stroke="#1FA845" stroke-width="3.6" />
<text x="1295.8" y="1432.5" font-size="24.4" text-anchor="start" font-weight="normal" font-style="normal" fill="#000" >+eQTL</text>
<line x1="1273.2" y1="1444.8" x2="1286.5" y2="1444.8" stroke="#6A9BE8" stroke-width="3" />
<text x="1297" y="1455.6" font-size="24.4" text-anchor="start" font-weight="normal" font-style="normal" fill="#000" >NA</text>
<text x="1053.5" y="1377.5" font-size="41" text-anchor="start" font-weight="bold" font-style="normal" fill="#000" >l</text>
<path d="M229.06 2030.65C230.67 2029.24 235.51 2024.6 238.74 2022.18C241.97 2019.76 244.79 2018.06 248.43 2016.13C252.06 2014.19 256.5 2011.97 260.53 2010.56C264.57 2009.14 268.6 2008.34 272.64 2007.65C276.67 2006.97 280.71 2006.32 284.75 2006.44C288.78 2006.56 292.82 2007.37 296.85 2008.38C300.89 2009.39 304.92 2011.12 308.96 2012.49C312.99 2013.87 317.43 2015.28 321.07 2016.61C324.7 2017.94 327.12 2019.68 330.75 2020.48C334.38 2021.29 338.82 2019.76 342.86 2021.45C346.89 2023.15 351.33 2026.7 354.96 2030.65C358.6 2034.61 361.42 2039.53 364.65 2045.18C367.88 2050.83 371.11 2057.29 374.33 2064.55C377.56 2071.82 380.79 2080.69 384.02 2088.77C387.25 2096.84 390.48 2106.32 393.7 2112.98C396.93 2119.64 400.16 2124.88 403.39 2128.72C406.62 2132.55 409.85 2134.37 413.08 2135.98C416.3 2137.59 419.53 2138.28 422.76 2138.4C425.99 2138.52 427.2 2136.99 432.45 2136.71C437.69 2136.42 446.57 2136.83 454.24 2136.71C461.9 2136.59 470.38 2136.22 478.45 2135.98C486.52 2135.74 494.59 2135.54 502.66 2135.25C510.73 2134.97 518.81 2134.53 526.88 2134.29C534.95 2134.04 542.41 2133.72 551.09 2133.8C559.77 2133.88 574.29 2134.61 578.93 2134.77" fill="none" stroke="#E8746B" stroke-width="3.6" stroke-linecap="butt" stroke-linejoin="round"/>
<path d="M229.06 2003.54C230.67 2005.23 235.51 2010.8 238.74 2013.7C241.97 2016.61 244.79 2019.03 248.43 2020.97C252.06 2022.91 256.5 2024.44 260.53 2025.33C264.57 2026.21 268.6 2026.3 272.64 2026.3C276.67 2026.3 281.11 2026.21 284.75 2025.33C288.38 2024.44 291.61 2023.11 294.43 2020.97C297.26 2018.83 299.27 2015.4 301.69 2012.49C304.12 2009.59 306.54 2005.67 308.96 2003.54C311.38 2001.4 313.4 2000.39 316.22 1999.66C319.05 1998.93 322.68 1998.85 325.91 1999.18C329.14 1999.5 332.77 2000.19 335.59 2001.6C338.42 2003.01 340.44 2004.42 342.86 2007.65C345.28 2010.88 347.3 2015.12 350.12 2020.97C352.95 2026.82 356.58 2035.09 359.81 2042.76C363.03 2050.43 366.26 2058.9 369.49 2066.97C372.72 2075.04 375.95 2083.92 379.18 2091.19C382.41 2098.45 385.63 2104.91 388.86 2110.56C392.09 2116.21 395.32 2121.05 398.55 2125.08C401.78 2129.12 405 2132.43 408.23 2134.77C411.46 2137.11 414.29 2138.32 417.92 2139.13C421.55 2139.94 425.99 2139.73 430.02 2139.61C434.06 2139.49 436.08 2138.81 442.13 2138.4C448.18 2138 458.27 2137.59 466.34 2137.19C474.41 2136.79 482.49 2136.38 490.56 2135.98C498.63 2135.58 506.7 2134.97 514.77 2134.77C522.84 2134.57 530.91 2134.57 538.98 2134.77C547.05 2134.97 556.54 2135.58 563.2 2135.98C569.85 2136.38 576.31 2136.99 578.93 2137.19" fill="none" stroke="#1FA845" stroke-width="3.6" stroke-linecap="butt" stroke-linejoin="round"/>
<path d="M229.06 2019.03C230.67 2019.03 235.51 2018.71 238.74 2019.03C241.97 2019.35 244.39 2020.24 248.43 2020.97C252.46 2021.69 258.11 2022.66 262.95 2023.39C267.8 2024.12 272.64 2024.6 277.48 2025.33C282.32 2026.05 287.17 2026.66 292.01 2027.75C296.85 2028.84 301.69 2030.49 306.54 2031.86C311.38 2033.24 316.22 2034.49 321.07 2035.98C325.91 2037.47 331.15 2038.48 335.59 2040.82C340.03 2043.16 343.66 2046.47 347.7 2050.02C351.74 2053.58 356.17 2057.29 359.81 2062.13C363.44 2066.97 366.26 2073.43 369.49 2079.08C372.72 2084.73 375.95 2090.58 379.18 2096.03C382.41 2101.48 385.63 2106.72 388.86 2111.77C392.09 2116.81 395.32 2122.46 398.55 2126.3C401.78 2130.13 405 2132.63 408.23 2134.77C411.46 2136.91 414.29 2138.24 417.92 2139.13C421.55 2140.02 425.99 2140.22 430.02 2140.1C434.06 2139.98 436.08 2138.89 442.13 2138.4C448.18 2137.92 458.27 2137.55 466.34 2137.19C474.41 2136.83 482.49 2136.51 490.56 2136.22C498.63 2135.94 506.7 2135.66 514.77 2135.5C522.84 2135.33 530.91 2135.29 538.98 2135.25C547.05 2135.21 556.54 2135.21 563.2 2135.25C569.85 2135.29 576.31 2135.46 578.93 2135.5" fill="none" stroke="#6A9BE8" stroke-width="3.6" stroke-linecap="butt" stroke-linejoin="round"/>
<path d="M589.06 2130.41C592.28 2131.06 601.16 2133.48 608.43 2134.29C615.69 2135.09 624.57 2135.09 632.64 2135.25C640.71 2135.42 648.78 2135.21 656.85 2135.25C664.92 2135.29 673.8 2135.25 681.07 2135.5C688.33 2135.74 695.59 2136.02 700.44 2136.71C705.28 2137.39 706.89 2138.93 710.12 2139.61C713.35 2140.3 716.58 2141.23 719.81 2140.82C723.03 2140.42 726.26 2139.41 729.49 2137.19C732.72 2134.97 735.95 2131.54 739.18 2127.51C742.41 2123.47 745.63 2117.22 748.86 2112.98C752.09 2108.74 755.32 2104.5 758.55 2102.08C761.78 2099.66 765 2099.14 768.23 2098.45C771.46 2097.76 775.09 2097.56 777.92 2097.97C780.74 2098.37 782.76 2098.97 785.18 2100.87C787.6 2102.77 789.62 2105.31 792.45 2109.35C795.27 2113.38 798.9 2120.65 802.13 2125.08C805.36 2129.52 808.59 2133.48 811.82 2135.98C815.04 2138.48 817.87 2139.41 821.5 2140.1C825.13 2140.78 829.98 2141.19 833.61 2140.1C837.24 2139.01 839.66 2136.46 843.29 2133.56C846.92 2130.65 851.36 2126.7 855.4 2122.66C859.44 2118.63 863.47 2113.38 867.51 2109.35C871.54 2105.31 875.17 2101.56 879.61 2098.45C884.05 2095.34 889.7 2092.32 894.14 2090.7C898.58 2089.09 902.21 2088.77 906.25 2088.77C910.28 2088.77 914.32 2089.57 918.35 2090.7C922.39 2091.83 928.44 2094.74 930.46 2095.54" fill="none" stroke="#E8746B" stroke-width="3.6" stroke-linecap="butt" stroke-linejoin="round"/>
<path d="M589.06 2135.25C596.32 2135.25 617.3 2135.21 632.64 2135.25C647.97 2135.29 668.96 2135.25 681.07 2135.5C693.17 2135.74 698.01 2136.34 705.28 2136.71C712.54 2137.07 719 2137.68 724.65 2137.68C730.3 2137.68 734.74 2137.39 739.18 2136.71C743.62 2136.02 747.65 2135.09 751.28 2133.56C754.92 2132.03 757.34 2130.53 760.97 2127.51C764.6 2124.48 769.04 2119.23 773.08 2115.4C777.11 2111.57 781.15 2107.73 785.18 2104.5C789.22 2101.28 793.25 2098.33 797.29 2096.03C801.32 2093.73 805.36 2092.32 809.39 2090.7C813.43 2089.09 817.47 2087.47 821.5 2086.34C825.54 2085.21 829.57 2084.93 833.61 2083.92C837.64 2082.91 841.68 2081.9 845.71 2080.29C849.75 2078.68 853.79 2075.85 857.82 2074.24C861.86 2072.62 865.89 2071.41 869.93 2070.61C873.96 2069.8 877.59 2069.48 882.03 2069.39C886.47 2069.31 892.12 2069.64 896.56 2070.12C901 2070.61 904.63 2071.41 908.67 2072.3C912.7 2073.19 917.14 2074.4 920.77 2075.45C924.41 2076.5 928.85 2078.07 930.46 2078.6" fill="none" stroke="#1FA845" stroke-width="3.6" stroke-linecap="butt" stroke-linejoin="round"/>
<path d="M589.06 2135.25C596.32 2135.25 617.3 2135.21 632.64 2135.25C647.97 2135.29 668.96 2135.33 681.07 2135.5C693.17 2135.66 697.21 2135.94 705.28 2136.22C713.35 2136.51 723.03 2137.23 729.49 2137.19C735.95 2137.15 739.58 2136.71 744.02 2135.98C748.46 2135.25 752.49 2134.45 756.13 2132.83C759.76 2131.22 762.18 2129 765.81 2126.3C769.44 2123.59 773.88 2119.84 777.92 2116.61C781.95 2113.38 785.99 2110.15 790.02 2106.92C794.06 2103.7 798.1 2100.27 802.13 2097.24C806.17 2094.21 810.2 2091.39 814.24 2088.77C818.27 2086.14 822.31 2083.72 826.34 2081.5C830.38 2079.28 834.41 2077.06 838.45 2075.45C842.49 2073.83 846.52 2072.91 850.56 2071.82C854.59 2070.73 858.63 2069.92 862.66 2068.91C866.7 2067.9 870.73 2066.89 874.77 2065.76C878.81 2064.63 882.84 2063.74 886.88 2062.13C890.91 2060.52 894.95 2058.1 898.98 2056.08C903.02 2054.06 907.05 2052.24 911.09 2050.02C915.13 2047.8 919.97 2044.78 923.2 2042.76C926.42 2040.74 929.25 2038.72 930.46 2037.92" fill="none" stroke="#6A9BE8" stroke-width="3.6" stroke-linecap="butt" stroke-linejoin="round"/>
<line x1="203" y1="1845" x2="212" y2="1845" stroke="#9b9b9b" stroke-width="2.4" />
<text x="200.6" y="1858.6" font-size="33.4" text-anchor="end" font-weight="normal" font-style="normal" fill="#000" >0.3</text>
<line x1="203" y1="1944.2" x2="212" y2="1944.2" stroke="#9b9b9b" stroke-width="2.4" />
<text x="200.6" y="1957.8" font-size="33.4" text-anchor="end" font-weight="normal" font-style="normal" fill="#000" >0.2</text>
<line x1="203" y1="2042.5" x2="212" y2="2042.5" stroke="#9b9b9b" stroke-width="2.4" />
<text x="200.6" y="2056.1" font-size="33.4" text-anchor="end" font-weight="normal" font-style="normal" fill="#000" >0.1</text>
<line x1="203" y1="2141.2" x2="212" y2="2141.2" stroke="#9b9b9b" stroke-width="2.4" />
<text x="200.6" y="2154.8" font-size="33.4" text-anchor="end" font-weight="normal" font-style="normal" fill="#000" >0</text>
<line x1="229" y1="2155" x2="229" y2="2162" stroke="#9b9b9b" stroke-width="3.2" />
<line x1="404.5" y1="2155" x2="404.5" y2="2162" stroke="#9b9b9b" stroke-width="3.2" />
<line x1="579.5" y1="2155" x2="579.5" y2="2162" stroke="#9b9b9b" stroke-width="3.2" />
<line x1="758.5" y1="2155" x2="758.5" y2="2162" stroke="#9b9b9b" stroke-width="3.2" />
<line x1="930.7" y1="2155" x2="930.7" y2="2162" stroke="#9b9b9b" stroke-width="3.2" />
<line x1="317" y1="2155" x2="317" y2="2161.5" stroke="#9b9b9b" stroke-width="2.8" />
<line x1="491.4" y1="2155" x2="491.4" y2="2161.5" stroke="#9b9b9b" stroke-width="2.8" />
<line x1="670.5" y1="2155" x2="670.5" y2="2161.5" stroke="#9b9b9b" stroke-width="2.8" />
<line x1="843.8" y1="2155" x2="843.8" y2="2161.5" stroke="#9b9b9b" stroke-width="2.8" />
<line x1="210.3" y1="1832" x2="950.3" y2="1832" stroke="#9b9b9b" stroke-width="2.6" />
<line x1="210.3" y1="2155" x2="950.3" y2="2155" stroke="#9b9b9b" stroke-width="2.6" />
<line x1="212" y1="1832" x2="212" y2="2155" stroke="#9b9b9b" stroke-width="3.4" />
<line x1="948.6" y1="1832" x2="948.6" y2="2155" stroke="#9b9b9b" stroke-width="3.4" />
<text x="180.4" y="2196.2" font-size="33.2" text-anchor="start" font-weight="normal" font-style="normal" fill="#000" >-2000</text>
<text x="375" y="2183.2" font-size="22" text-anchor="start" font-weight="bold" font-style="normal" fill="#000" >5&#8217;</text>
<text x="395.3" y="2196.2" font-size="33.2" text-anchor="start" font-weight="normal" font-style="normal" fill="#000" >0</text>
<text x="540.6" y="2196.2" font-size="33.2" text-anchor="start" font-weight="normal" font-style="normal" fill="#000" >2000</text>
<text x="751.2" y="2196.2" font-size="33.2" text-anchor="start" font-weight="normal" font-style="normal" fill="#000" >0</text>
<text x="776.6" y="2183.2" font-size="22" text-anchor="start" font-weight="bold" font-style="normal" fill="#000" >3&#8217;</text>
<text x="879.6" y="2196.2" font-size="33.2" text-anchor="start" font-weight="normal" font-style="normal" fill="#000" >-2000</text>
<text x="342" y="2243.9" font-size="33.6" text-anchor="start" font-weight="normal" font-style="normal" fill="#000" >Distance along gene (bp)</text>
<text x="128.3" y="1997.6" font-size="33" text-anchor="middle" font-weight="normal" font-style="normal" fill="#000" transform="rotate(-90 128.3 1997.6)" >mCHG fraction</text>
<line x1="292.7" y1="1892.5" x2="306" y2="1892.5" stroke="#E8746B" stroke-width="3" />
<text x="318.6" y="1895.4" font-size="24.4" text-anchor="start" font-weight="normal" font-style="normal" fill="#000" >-eQTL</text>
<line x1="292.7" y1="1912" x2="306" y2="1912" stroke="#1FA845" stroke-width="3.6" />
<text x="317.4" y="1921.1" font-size="24.4" text-anchor="start" font-weight="normal" font-style="normal" fill="#000" >+eQTL</text>
<line x1="292.7" y1="1932.4" x2="306" y2="1932.4" stroke="#6A9BE8" stroke-width="3" />
<text x="318.6" y="1944.4" font-size="24.4" text-anchor="start" font-weight="normal" font-style="normal" fill="#000" >NA</text>
<text x="2.5" y="1852.4" font-size="41" text-anchor="start" font-weight="bold" font-style="normal" fill="#000" >j</text>
<path d="M1215.11 2028.8C1216.52 2028.76 1220.56 2028.88 1223.58 2028.56C1226.61 2028.24 1229.23 2027.15 1233.27 2026.86C1237.3 2026.58 1242.95 2026.66 1247.8 2026.86C1252.64 2027.07 1257.89 2027.55 1262.32 2028.08C1266.76 2028.6 1270.4 2028.88 1274.43 2030.01C1278.47 2031.14 1282.91 2033.16 1286.54 2034.85C1290.17 2036.55 1292.99 2039.21 1296.22 2040.18C1299.45 2041.15 1303.28 2040.87 1305.91 2040.67C1308.53 2040.46 1309.94 2039.94 1311.96 2038.97C1313.98 2038 1315.39 2035.26 1318.01 2034.85C1320.64 2034.45 1324.47 2035.66 1327.7 2036.55C1330.93 2037.44 1334.16 2038.97 1337.38 2040.18C1340.61 2041.39 1344.25 2040.99 1347.07 2043.81C1349.9 2046.64 1351.91 2051.68 1354.33 2057.13C1356.76 2062.58 1358.77 2070.04 1361.6 2076.5C1364.42 2082.96 1368.05 2089.41 1371.28 2095.87C1374.51 2102.33 1378.14 2109.79 1380.97 2115.24C1383.79 2120.69 1385.81 2125.33 1388.23 2128.56C1390.65 2131.79 1392.27 2133.12 1395.5 2134.61C1398.72 2136.11 1403.16 2136.99 1407.6 2137.52C1412.04 2138.04 1418.1 2138.16 1422.13 2137.76C1426.17 2137.36 1427.78 2135.7 1431.82 2135.1C1435.85 2134.49 1439.89 2134.41 1446.34 2134.13C1452.8 2133.85 1462.49 2133.64 1470.56 2133.4C1478.63 2133.16 1486.7 2132.88 1494.77 2132.68C1502.84 2132.47 1510.91 2132.27 1518.98 2132.19C1527.05 2132.11 1535.73 2132.19 1543.2 2132.19C1550.66 2132.19 1560.35 2132.19 1563.78 2132.19" fill="none" stroke="#E8746B" stroke-width="3.6" stroke-linecap="butt" stroke-linejoin="round"/>
<path d="M1215.11 2002.65C1217.33 2003.26 1223.79 2005.07 1228.43 2006.28C1233.07 2007.49 1238.11 2008.7 1242.95 2009.92C1247.8 2011.13 1252.64 2012.34 1257.48 2013.55C1262.32 2014.76 1267.57 2016.25 1272.01 2017.18C1276.45 2018.11 1280.08 2019.12 1284.12 2019.12C1288.15 2019.12 1292.19 2017.18 1296.22 2017.18C1300.26 2017.18 1304.7 2018.51 1308.33 2019.12C1311.96 2019.72 1314.79 2019.52 1318.01 2020.81C1321.24 2022.1 1324.47 2024.04 1327.7 2026.86C1330.93 2029.69 1334.16 2033.72 1337.38 2037.76C1340.61 2041.8 1343.84 2045.43 1347.07 2051.08C1350.3 2056.73 1353.53 2065 1356.76 2071.66C1359.98 2078.32 1363.21 2084.57 1366.44 2091.03C1369.67 2097.49 1372.9 2104.75 1376.13 2110.4C1379.35 2116.05 1382.58 2121.09 1385.81 2124.93C1389.04 2128.76 1391.86 2131.3 1395.5 2133.4C1399.13 2135.5 1403.16 2136.79 1407.6 2137.52C1412.04 2138.24 1418.1 2138.16 1422.13 2137.76C1426.17 2137.36 1427.78 2135.7 1431.82 2135.1C1435.85 2134.49 1439.89 2134.41 1446.34 2134.13C1452.8 2133.85 1462.49 2133.64 1470.56 2133.4C1478.63 2133.16 1486.7 2132.88 1494.77 2132.68C1502.84 2132.47 1510.91 2132.27 1518.98 2132.19C1527.05 2132.11 1535.73 2132.19 1543.2 2132.19C1550.66 2132.19 1560.35 2132.19 1563.78 2132.19" fill="none" stroke="#1FA845" stroke-width="3.6" stroke-linecap="butt" stroke-linejoin="round"/>
<path d="M1215.11 2015.97C1217.33 2016.17 1223.79 2016.57 1228.43 2017.18C1233.07 2017.78 1238.11 2018.87 1242.95 2019.6C1247.8 2020.33 1252.64 2020.93 1257.48 2021.54C1262.32 2022.14 1267.17 2022.47 1272.01 2023.23C1276.85 2024 1281.69 2024.93 1286.54 2026.14C1291.38 2027.35 1296.63 2028.96 1301.07 2030.5C1305.5 2032.03 1309.14 2033.52 1313.17 2035.34C1317.21 2037.15 1321.65 2038.97 1325.28 2041.39C1328.91 2043.81 1331.33 2046.23 1334.96 2049.87C1338.6 2053.5 1343.44 2058.14 1347.07 2063.18C1350.7 2068.23 1353.53 2074.69 1356.76 2080.13C1359.98 2085.58 1363.21 2090.63 1366.44 2095.87C1369.67 2101.12 1372.9 2106.57 1376.13 2111.61C1379.35 2116.65 1382.58 2122.38 1385.81 2126.14C1389.04 2129.89 1391.86 2132.23 1395.5 2134.13C1399.13 2136.03 1403.16 2136.91 1407.6 2137.52C1412.04 2138.12 1418.1 2138.16 1422.13 2137.76C1426.17 2137.36 1427.78 2135.7 1431.82 2135.1C1435.85 2134.49 1439.89 2134.41 1446.34 2134.13C1452.8 2133.85 1462.49 2133.64 1470.56 2133.4C1478.63 2133.16 1486.7 2132.88 1494.77 2132.68C1502.84 2132.47 1510.91 2132.27 1518.98 2132.19C1527.05 2132.11 1535.73 2132.19 1543.2 2132.19C1550.66 2132.19 1560.35 2132.19 1563.78 2132.19" fill="none" stroke="#6A9BE8" stroke-width="3.6" stroke-linecap="butt" stroke-linejoin="round"/>
<path d="M1574.21 2132.19C1582.28 2132.19 1606.5 2132.15 1622.64 2132.19C1638.78 2132.23 1658.96 2132.19 1671.07 2132.43C1683.17 2132.68 1688.01 2133.2 1695.28 2133.64C1702.54 2134.09 1709 2135.14 1714.65 2135.1C1720.3 2135.06 1724.33 2134.29 1729.18 2133.4C1734.02 2132.51 1738.86 2131.18 1743.7 2129.77C1748.55 2128.36 1753.79 2126.95 1758.23 2124.93C1762.67 2122.91 1766.3 2120.89 1770.34 2117.66C1774.37 2114.44 1778.41 2110.4 1782.45 2105.56C1786.48 2100.71 1790.52 2094.26 1794.55 2088.61C1798.59 2082.96 1803.03 2076.3 1806.66 2071.66C1810.29 2067.02 1813.32 2063.79 1816.34 2060.76C1819.37 2057.74 1821.59 2055.52 1824.82 2053.5C1828.05 2051.48 1831.48 2050.15 1835.71 2048.66C1839.95 2047.16 1845.4 2045.63 1850.24 2044.54C1855.08 2043.45 1859.93 2043.05 1864.77 2042.12C1869.61 2041.19 1874.05 2040.18 1879.3 2038.97C1884.54 2037.76 1890.27 2036.15 1896.25 2034.85C1902.22 2033.56 1911.99 2031.83 1915.13 2031.22" fill="none" stroke="#E8746B" stroke-width="3.6" stroke-linecap="butt" stroke-linejoin="round"/>
<path d="M1574.21 2132.19C1582.28 2132.19 1606.5 2132.15 1622.64 2132.19C1638.78 2132.23 1658.96 2132.19 1671.07 2132.43C1683.17 2132.68 1688.01 2133.2 1695.28 2133.64C1702.54 2134.09 1709 2135.14 1714.65 2135.1C1720.3 2135.06 1725.14 2134.09 1729.18 2133.4C1733.21 2132.72 1735.23 2132.8 1738.86 2130.98C1742.49 2129.16 1746.93 2125.73 1750.97 2122.51C1755 2119.28 1759.04 2115.44 1763.08 2111.61C1767.11 2107.78 1771.15 2103.34 1775.18 2099.5C1779.22 2095.67 1783.25 2091.43 1787.29 2088.61C1791.32 2085.78 1795.36 2084.57 1799.39 2082.55C1803.43 2080.54 1807.47 2078.52 1811.5 2076.5C1815.54 2074.48 1819.57 2072.47 1823.61 2070.45C1827.64 2068.43 1831.68 2066.61 1835.71 2064.39C1839.75 2062.18 1843.79 2058.74 1847.82 2057.13C1851.86 2055.52 1855.89 2055.52 1859.93 2054.71C1863.96 2053.9 1868 2053.5 1872.03 2052.29C1876.07 2051.08 1879.7 2049.06 1884.14 2047.45C1888.58 2045.83 1893.5 2044.62 1898.67 2042.6C1903.83 2040.59 1912.39 2036.55 1915.13 2035.34" fill="none" stroke="#1FA845" stroke-width="3.6" stroke-linecap="butt" stroke-linejoin="round"/>
<path d="M1574.21 2132.19C1582.28 2132.19 1606.5 2132.15 1622.64 2132.19C1638.78 2132.23 1658.96 2132.19 1671.07 2132.43C1683.17 2132.68 1688.01 2133.2 1695.28 2133.64C1702.54 2134.09 1709 2135.14 1714.65 2135.1C1720.3 2135.06 1724.33 2134.37 1729.18 2133.4C1734.02 2132.43 1739.27 2131.3 1743.7 2129.29C1748.14 2127.27 1751.78 2124.24 1755.81 2121.3C1759.85 2118.35 1763.88 2115.04 1767.92 2111.61C1771.95 2108.18 1775.99 2104.14 1780.02 2100.71C1784.06 2097.28 1788.1 2093.85 1792.13 2091.03C1796.17 2088.2 1800.2 2085.98 1804.24 2083.77C1808.27 2081.55 1812.71 2079.41 1816.34 2077.71C1819.98 2076.02 1821.99 2074.81 1826.03 2073.6C1830.06 2072.38 1835.71 2071.58 1840.56 2070.45C1845.4 2069.32 1850.24 2068.23 1855.08 2066.82C1859.93 2065.4 1864.77 2063.79 1869.61 2061.97C1874.46 2060.16 1879.3 2058.14 1884.14 2055.92C1888.98 2053.7 1893.5 2051.88 1898.67 2048.66C1903.83 2045.43 1912.39 2038.57 1915.13 2036.55" fill="none" stroke="#6A9BE8" stroke-width="3.6" stroke-linecap="butt" stroke-linejoin="round"/>
<line x1="1189" y1="1841.7" x2="1198" y2="1841.7" stroke="#9b9b9b" stroke-width="2.4" />
<text x="1180.8" y="1857.9" font-size="33.4" text-anchor="end" font-weight="normal" font-style="normal" fill="#000" >0.3</text>
<line x1="1189" y1="1940.4" x2="1198" y2="1940.4" stroke="#9b9b9b" stroke-width="2.4" />
<text x="1180.8" y="1956.6" font-size="33.4" text-anchor="end" font-weight="normal" font-style="normal" fill="#000" >0.2</text>
<line x1="1189" y1="2039.3" x2="1198" y2="2039.3" stroke="#9b9b9b" stroke-width="2.4" />
<text x="1180.8" y="2055.5" font-size="33.4" text-anchor="end" font-weight="normal" font-style="normal" fill="#000" >0.1</text>
<line x1="1189" y1="2137.8" x2="1198" y2="2137.8" stroke="#9b9b9b" stroke-width="2.4" />
<text x="1180.8" y="2154" font-size="33.4" text-anchor="end" font-weight="normal" font-style="normal" fill="#000" >0</text>
<line x1="1215" y1="2152" x2="1215" y2="2159" stroke="#9b9b9b" stroke-width="3.2" />
<line x1="1390" y1="2152" x2="1390" y2="2159" stroke="#9b9b9b" stroke-width="3.2" />
<line x1="1564.8" y1="2152" x2="1564.8" y2="2159" stroke="#9b9b9b" stroke-width="3.2" />
<line x1="1743.3" y1="2152" x2="1743.3" y2="2159" stroke="#9b9b9b" stroke-width="3.2" />
<line x1="1915" y1="2152" x2="1915" y2="2159" stroke="#9b9b9b" stroke-width="3.2" />
<line x1="1303" y1="2152" x2="1303" y2="2158.5" stroke="#9b9b9b" stroke-width="2.8" />
<line x1="1476.9" y1="2152" x2="1476.9" y2="2158.5" stroke="#9b9b9b" stroke-width="2.8" />
<line x1="1657.4" y1="2152" x2="1657.4" y2="2158.5" stroke="#9b9b9b" stroke-width="2.8" />
<line x1="1827.6" y1="2152" x2="1827.6" y2="2158.5" stroke="#9b9b9b" stroke-width="2.8" />
<line x1="1196.3" y1="1827.4" x2="1933.5" y2="1827.4" stroke="#9b9b9b" stroke-width="2.6" />
<line x1="1196.3" y1="2152" x2="1933.5" y2="2152" stroke="#9b9b9b" stroke-width="2.6" />
<line x1="1198" y1="1827.4" x2="1198" y2="2152" stroke="#9b9b9b" stroke-width="3.4" />
<line x1="1931.8" y1="1827.4" x2="1931.8" y2="2152" stroke="#9b9b9b" stroke-width="3.4" />
<text x="1167.3" y="2195" font-size="33.2" text-anchor="start" font-weight="normal" font-style="normal" fill="#000" >-2000</text>
<text x="1364" y="2182" font-size="22" text-anchor="start" font-weight="bold" font-style="normal" fill="#000" >5&#8217;</text>
<text x="1382.2" y="2195" font-size="33.2" text-anchor="start" font-weight="normal" font-style="normal" fill="#000" >0</text>
<text x="1530.5" y="2195" font-size="33.2" text-anchor="start" font-weight="normal" font-style="normal" fill="#000" >2000</text>
<text x="1735.1" y="2195" font-size="33.2" text-anchor="start" font-weight="normal" font-style="normal" fill="#000" >0</text>
<text x="1760" y="2182" font-size="22" text-anchor="start" font-weight="bold" font-style="normal" fill="#000" >3&#8217;</text>
<text x="1860.4" y="2197.5" font-size="33.2" text-anchor="start" font-weight="normal" font-style="normal" fill="#000" >-2000</text>
<text x="1419.7" y="2236.7" font-size="33.6" text-anchor="start" font-weight="normal" font-style="normal" fill="#000" >Distance along gene (bp)</text>
<text x="1108" y="1996.8" font-size="33" text-anchor="middle" font-weight="normal" font-style="normal" fill="#000" transform="rotate(-90 1108 1996.8)" >mCHG fraction</text>
<line x1="1278" y1="1888.1" x2="1291.4" y2="1888.1" stroke="#E8746B" stroke-width="3" />
<text x="1302.3" y="1892.1" font-size="24.4" text-anchor="start" font-weight="normal" font-style="normal" fill="#000" >-eQTL</text>
<line x1="1278" y1="1908.7" x2="1291.4" y2="1908.7" stroke="#1FA845" stroke-width="3.6" />
<text x="1301.1" y="1918" font-size="24.4" text-anchor="start" font-weight="normal" font-style="normal" fill="#000" >+eQTL</text>
<line x1="1278" y1="1928.8" x2="1291.4" y2="1928.8" stroke="#6A9BE8" stroke-width="3" />
<text x="1302.3" y="1941.3" font-size="24.4" text-anchor="start" font-weight="normal" font-style="normal" fill="#000" >NA</text>
<text x="1054.5" y="1851.5" font-size="41" text-anchor="start" font-weight="bold" font-style="normal" fill="#000" >m</text>
<path d="M232.2 2510.02C233.7 2510.91 238.05 2513.74 241.16 2515.35C244.27 2516.97 247.22 2518.7 250.85 2519.71C254.48 2520.72 258.92 2521.4 262.95 2521.4C266.99 2521.4 271.83 2521.2 275.06 2519.71C278.29 2518.22 279.9 2516.48 282.32 2512.45C284.75 2508.41 287.17 2501.55 289.59 2495.5C292.01 2489.44 294.43 2481.78 296.85 2476.13C299.27 2470.48 301.9 2465.15 304.12 2461.6C306.34 2458.05 308.35 2455.95 310.17 2454.82C311.99 2453.69 313.2 2453.28 315.01 2454.82C316.83 2456.35 319.05 2460.06 321.07 2464.02C323.08 2467.97 325.1 2473.7 327.12 2478.55C329.14 2483.39 330.95 2489.24 333.17 2493.08C335.39 2496.91 337.61 2499.61 340.44 2501.55C343.26 2503.49 346.49 2504.09 350.12 2504.7C353.75 2505.3 359 2504.9 362.23 2505.18C365.46 2505.46 366.67 2504.58 369.49 2506.39C372.32 2508.21 375.95 2511.44 379.18 2516.08C382.41 2520.72 386.04 2527.58 388.86 2534.24C391.69 2540.9 393.7 2548.77 396.13 2556.03C398.55 2563.29 400.97 2571.57 403.39 2577.82C405.81 2584.08 408.23 2590.25 410.65 2593.56C413.08 2596.87 415.09 2596.59 417.92 2597.68C420.74 2598.77 423.57 2599.85 427.6 2600.1C431.64 2600.34 435.67 2599.37 442.13 2599.13C448.59 2598.89 458.27 2598.72 466.34 2598.64C474.41 2598.56 482.49 2598.72 490.56 2598.64C498.63 2598.56 506.7 2598.48 514.77 2598.16C522.84 2597.84 530.91 2596.79 538.98 2596.71C547.05 2596.63 555.33 2596.99 563.2 2597.68C571.07 2598.36 582.36 2600.3 586.2 2600.82" fill="none" stroke="#E8746B" stroke-width="3.6" stroke-linecap="butt" stroke-linejoin="round"/>
<path d="M232.2 2500.34C233.7 2501.75 238.05 2505.79 241.16 2508.81C244.27 2511.84 247.22 2515.47 250.85 2518.5C254.48 2521.53 259.32 2524.67 262.95 2526.97C266.59 2529.27 269.81 2531.49 272.64 2532.3C275.46 2533.11 277.48 2533.11 279.9 2531.82C282.32 2530.52 284.34 2528.18 287.17 2524.55C289.99 2520.92 293.62 2514.87 296.85 2510.02C300.08 2505.18 303.31 2499.94 306.54 2495.5C309.77 2491.06 312.99 2486.82 316.22 2483.39C319.45 2479.96 323.08 2476.65 325.91 2474.92C328.73 2473.18 330.75 2472.98 333.17 2472.98C335.59 2472.98 337.61 2473.18 340.44 2474.92C343.26 2476.65 346.89 2480.16 350.12 2483.39C353.35 2486.62 356.58 2490.45 359.81 2494.29C363.03 2498.12 366.26 2501.75 369.49 2506.39C372.72 2511.03 375.95 2516.28 379.18 2522.13C382.41 2527.98 386.04 2535.04 388.86 2541.5C391.69 2547.96 393.7 2554.41 396.13 2560.87C398.55 2567.33 400.97 2574.59 403.39 2580.24C405.81 2585.89 408.23 2591.62 410.65 2594.77C413.08 2597.92 415.09 2598.32 417.92 2599.13C420.74 2599.94 423.57 2599.77 427.6 2599.61C431.64 2599.45 435.67 2598.48 442.13 2598.16C448.59 2597.84 454.24 2597.84 466.34 2597.68C478.45 2597.51 502.66 2597.35 514.77 2597.19C526.88 2597.03 530.91 2596.55 538.98 2596.71C547.05 2596.87 555.33 2597.76 563.2 2598.16C571.07 2598.56 582.36 2598.97 586.2 2599.13" fill="none" stroke="#1FA845" stroke-width="3.6" stroke-linecap="butt" stroke-linejoin="round"/>
<path d="M232.2 2502.03C234.1 2502.48 239.27 2504.17 243.58 2504.7C247.9 2505.22 253.27 2505.22 258.11 2505.18C262.95 2505.14 268.6 2504.66 272.64 2504.46C276.67 2504.25 278.29 2503.65 282.32 2503.97C286.36 2504.29 292.41 2505.59 296.85 2506.39C301.29 2507.2 304.12 2508.13 308.96 2508.81C313.8 2509.5 320.66 2509.98 325.91 2510.51C331.15 2511.03 336 2511.56 340.44 2511.96C344.87 2512.36 348.51 2511.84 352.54 2512.93C356.58 2514.02 361.02 2515.75 364.65 2518.5C368.28 2521.24 371.11 2524.75 374.33 2529.39C377.56 2534.04 380.79 2539.89 384.02 2546.34C387.25 2552.8 390.48 2561.28 393.7 2568.14C396.93 2575 400.56 2582.66 403.39 2587.51C406.21 2592.35 407.83 2595.17 410.65 2597.19C413.48 2599.21 415.09 2599.45 420.34 2599.61C425.59 2599.77 434.46 2598.48 442.13 2598.16C449.8 2597.84 454.24 2597.76 466.34 2597.68C478.45 2597.59 494.79 2597.68 514.77 2597.68C534.75 2597.68 574.29 2597.68 586.2 2597.68" fill="none" stroke="#6A9BE8" stroke-width="3.6" stroke-linecap="butt" stroke-linejoin="round"/>
<path d="M597.85 2597.68C604.91 2597.27 627.51 2595.66 640.22 2595.25C652.93 2594.85 663.62 2594.93 674.12 2595.25C684.61 2595.58 694.7 2596.46 703.17 2597.19C711.65 2597.92 719.72 2599.01 724.96 2599.61C730.21 2600.22 731.42 2600.9 734.65 2600.82C737.88 2600.74 741.51 2600.94 744.33 2599.13C747.16 2597.31 748.77 2594.69 751.6 2589.93C754.42 2585.17 758.05 2577.01 761.28 2570.56C764.51 2564.1 768.14 2556.11 770.97 2551.19C773.79 2546.26 776.01 2543.03 778.23 2541.02C780.45 2539 782.27 2539.2 784.29 2539.08C786.3 2538.96 788.12 2538.88 790.34 2540.29C792.56 2541.7 794.78 2543.92 797.6 2547.55C800.43 2551.19 804.06 2557.85 807.29 2562.08C810.52 2566.32 813.74 2570.36 816.97 2572.98C820.2 2575.6 823.83 2577.09 826.66 2577.82C829.48 2578.55 831.1 2578.75 833.92 2577.34C836.75 2575.92 839.98 2572.49 843.61 2569.35C847.24 2566.2 851.68 2562.69 855.71 2558.45C859.75 2554.21 863.38 2548.36 867.82 2543.92C872.26 2539.48 878.31 2535.85 882.35 2531.82C886.38 2527.78 888.81 2523.54 892.03 2519.71C895.26 2515.88 898.89 2511.03 901.72 2508.81C904.54 2506.59 906.56 2506.47 908.98 2506.39C911.4 2506.31 913.83 2506.92 916.25 2508.33C918.67 2509.74 921.09 2511.76 923.51 2514.87C925.93 2517.97 928.35 2521.93 930.77 2526.97C933.2 2532.02 936.83 2542.11 938.04 2545.13" fill="none" stroke="#E8746B" stroke-width="3.6" stroke-linecap="butt" stroke-linejoin="round"/>
<path d="M597.85 2597.19C609.35 2597.19 641.63 2597.11 666.85 2597.19C692.07 2597.27 733.44 2598.08 749.18 2597.68C764.92 2597.27 757.65 2596.06 761.28 2594.77C764.92 2593.48 767.34 2591.95 770.97 2589.93C774.6 2587.91 779.04 2585.29 783.08 2582.66C787.11 2580.04 791.15 2576.53 795.18 2574.19C799.22 2571.85 803.25 2569.83 807.29 2568.62C811.32 2567.41 815.36 2567.09 819.39 2566.92C823.43 2566.76 827.47 2567.45 831.5 2567.65C835.54 2567.85 839.57 2568.26 843.61 2568.14C847.64 2568.01 852.08 2568.34 855.71 2566.92C859.35 2565.51 862.17 2562.28 865.4 2559.66C868.63 2557.04 871.86 2553.61 875.08 2551.19C878.31 2548.77 881.54 2546.42 884.77 2545.13C888 2543.84 890.42 2543.72 894.46 2543.44C898.49 2543.16 904.54 2543.16 908.98 2543.44C913.42 2543.72 916.25 2544.45 921.09 2545.13C925.93 2545.82 935.21 2547.15 938.04 2547.55" fill="none" stroke="#1FA845" stroke-width="3.6" stroke-linecap="butt" stroke-linejoin="round"/>
<path d="M597.85 2597.68C609.35 2597.68 641.63 2597.68 666.85 2597.68C692.07 2597.68 733.44 2598.36 749.18 2597.68C764.92 2596.99 757.25 2595.66 761.28 2593.56C765.32 2591.46 769.35 2588.31 773.39 2585.08C777.43 2581.86 781.46 2577.62 785.5 2574.19C789.53 2570.76 793.16 2567.73 797.6 2564.5C802.04 2561.28 807.29 2557.44 812.13 2554.82C816.97 2552.2 821.82 2550.78 826.66 2548.77C831.5 2546.75 836.34 2544.53 841.19 2542.71C846.03 2540.9 851.28 2539.08 855.71 2537.87C860.15 2536.66 863.38 2536.05 867.82 2535.45C872.26 2534.84 877.51 2534.64 882.35 2534.24C887.19 2533.83 892.03 2534.04 896.88 2533.03C901.72 2532.02 906.56 2530 911.4 2528.18C916.25 2526.37 921.49 2523.95 925.93 2522.13C930.37 2520.31 936.02 2518.1 938.04 2517.29" fill="none" stroke="#6A9BE8" stroke-width="3.6" stroke-linecap="butt" stroke-linejoin="round"/>
<line x1="206.8" y1="2311.5" x2="215.8" y2="2311.5" stroke="#9b9b9b" stroke-width="2.4" />
<text x="197.7" y="2326" font-size="33.4" text-anchor="end" font-weight="normal" font-style="normal" fill="#000" >0.15</text>
<line x1="206.8" y1="2409.5" x2="215.8" y2="2409.5" stroke="#9b9b9b" stroke-width="2.4" />
<text x="197.7" y="2424" font-size="33.4" text-anchor="end" font-weight="normal" font-style="normal" fill="#000" >0.10</text>
<line x1="206.8" y1="2508.1" x2="215.8" y2="2508.1" stroke="#9b9b9b" stroke-width="2.4" />
<text x="197.7" y="2522.6" font-size="33.4" text-anchor="end" font-weight="normal" font-style="normal" fill="#000" >0.05</text>
<line x1="206.8" y1="2606.9" x2="215.8" y2="2606.9" stroke="#9b9b9b" stroke-width="2.4" />
<text x="197.7" y="2621.4" font-size="33.4" text-anchor="end" font-weight="normal" font-style="normal" fill="#000" >0</text>
<line x1="232.5" y1="2621.4" x2="232.5" y2="2628.4" stroke="#9b9b9b" stroke-width="3.2" />
<line x1="410.3" y1="2621.4" x2="410.3" y2="2628.4" stroke="#9b9b9b" stroke-width="3.2" />
<line x1="587.5" y1="2621.4" x2="587.5" y2="2628.4" stroke="#9b9b9b" stroke-width="3.2" />
<line x1="765.3" y1="2621.4" x2="765.3" y2="2628.4" stroke="#9b9b9b" stroke-width="3.2" />
<line x1="938.2" y1="2621.4" x2="938.2" y2="2628.4" stroke="#9b9b9b" stroke-width="3.2" />
<line x1="321.5" y1="2621.4" x2="321.5" y2="2627.9" stroke="#9b9b9b" stroke-width="2.8" />
<line x1="499.6" y1="2621.4" x2="499.6" y2="2627.9" stroke="#9b9b9b" stroke-width="2.8" />
<line x1="679" y1="2621.4" x2="679" y2="2627.9" stroke="#9b9b9b" stroke-width="2.8" />
<line x1="851.3" y1="2621.4" x2="851.3" y2="2627.9" stroke="#9b9b9b" stroke-width="2.8" />
<line x1="214.1" y1="2296.5" x2="958.2" y2="2296.5" stroke="#9b9b9b" stroke-width="2.6" />
<line x1="214.1" y1="2621.4" x2="958.2" y2="2621.4" stroke="#9b9b9b" stroke-width="2.6" />
<line x1="215.8" y1="2296.5" x2="215.8" y2="2621.4" stroke="#9b9b9b" stroke-width="3.4" />
<line x1="956.5" y1="2296.5" x2="956.5" y2="2621.4" stroke="#9b9b9b" stroke-width="3.4" />
<text x="180.4" y="2662.8" font-size="33.2" text-anchor="start" font-weight="normal" font-style="normal" fill="#000" >-2000</text>
<text x="380" y="2649.8" font-size="22" text-anchor="start" font-weight="bold" font-style="normal" fill="#000" >5&#8217;</text>
<text x="398.3" y="2662.8" font-size="33.2" text-anchor="start" font-weight="normal" font-style="normal" fill="#000" >0</text>
<text x="552.7" y="2662.8" font-size="33.2" text-anchor="start" font-weight="normal" font-style="normal" fill="#000" >2000</text>
<text x="760.3" y="2662.8" font-size="33.2" text-anchor="start" font-weight="normal" font-style="normal" fill="#000" >0</text>
<text x="777.8" y="2649.8" font-size="22" text-anchor="start" font-weight="bold" font-style="normal" fill="#000" >3&#8217;</text>
<text x="874.8" y="2662.8" font-size="33.2" text-anchor="start" font-weight="normal" font-style="normal" fill="#000" >-2000</text>
<text x="357" y="2708.9" font-size="33.6" text-anchor="start" font-weight="normal" font-style="normal" fill="#000" >Distance along gene (bp)</text>
<text x="115" y="2465" font-size="33" text-anchor="middle" font-weight="normal" font-style="normal" fill="#000" transform="rotate(-90 115 2465)" >mCHH fraction</text>
<line x1="295.6" y1="2358" x2="309.4" y2="2358" stroke="#E8746B" stroke-width="3" />
<text x="320.6" y="2361.9" font-size="24.4" text-anchor="start" font-weight="normal" font-style="normal" fill="#000" >-eQTL</text>
<line x1="295.6" y1="2377.8" x2="309.4" y2="2377.8" stroke="#1FA845" stroke-width="3.6" />
<text x="319.4" y="2387.3" font-size="24.4" text-anchor="start" font-weight="normal" font-style="normal" fill="#000" >+eQTL</text>
<line x1="295.6" y1="2398.4" x2="309.4" y2="2398.4" stroke="#6A9BE8" stroke-width="3" />
<text x="320.6" y="2411.6" font-size="24.4" text-anchor="start" font-weight="normal" font-style="normal" fill="#000" >NA</text>
<text x="1" y="2331.4" font-size="41" text-anchor="start" font-weight="bold" font-style="normal" fill="#000" >k</text>
<path d="M1224.62 2505.18C1227.73 2505.26 1236.93 2505.38 1243.27 2505.67C1249.6 2505.95 1256.18 2506.23 1262.64 2506.88C1269.1 2507.52 1276.36 2508.53 1282.01 2509.54C1287.66 2510.55 1292.1 2511.84 1296.54 2512.93C1300.98 2514.02 1305.01 2515.63 1308.64 2516.08C1312.28 2516.52 1315.91 2516.28 1318.33 2515.59C1320.75 2514.91 1320.35 2512.97 1323.17 2511.96C1326 2510.95 1331.24 2509.94 1335.28 2509.54C1339.31 2509.14 1343.75 2509.06 1347.38 2509.54C1351.02 2510.02 1354.25 2509.94 1357.07 2512.45C1359.9 2514.95 1361.91 2519.71 1364.33 2524.55C1366.76 2529.39 1368.77 2535.85 1371.6 2541.5C1374.42 2547.15 1378.05 2552.8 1381.28 2558.45C1384.51 2564.1 1388.14 2570.56 1390.97 2575.4C1393.79 2580.24 1395.41 2584.28 1398.23 2587.51C1401.06 2590.73 1404.29 2592.75 1407.92 2594.77C1411.55 2596.79 1415.99 2598.81 1420.02 2599.61C1424.06 2600.42 1428.5 2600.1 1432.13 2599.61C1435.76 2599.13 1437.78 2597.31 1441.82 2596.71C1445.85 2596.1 1445.85 2596.18 1456.34 2595.98C1466.84 2595.78 1485 2595.62 1504.77 2595.5C1524.54 2595.38 1563.28 2595.29 1574.99 2595.25" fill="none" stroke="#E8746B" stroke-width="3.6" stroke-linecap="butt" stroke-linejoin="round"/>
<path d="M1224.62 2487.51C1226.92 2488.11 1233.3 2490.13 1238.43 2491.14C1243.55 2492.15 1249.32 2493.12 1255.38 2493.56C1261.43 2494 1268.69 2493.88 1274.75 2493.8C1280.8 2493.72 1286.85 2494 1291.69 2493.08C1296.54 2492.15 1299.77 2489.36 1303.8 2488.23C1307.84 2487.1 1312.28 2486.78 1315.91 2486.3C1319.54 2485.81 1322.36 2485 1325.59 2485.33C1328.82 2485.65 1332.05 2486.74 1335.28 2488.23C1338.51 2489.73 1341.74 2491.66 1344.96 2494.29C1348.19 2496.91 1351.42 2500.14 1354.65 2503.97C1357.88 2507.8 1361.51 2512.24 1364.33 2517.29C1367.16 2522.33 1368.77 2528.18 1371.6 2534.24C1374.42 2540.29 1378.05 2547.15 1381.28 2553.61C1384.51 2560.06 1388.14 2567.73 1390.97 2572.98C1393.79 2578.22 1395.41 2581.65 1398.23 2585.08C1401.06 2588.51 1404.29 2591.14 1407.92 2593.56C1411.55 2595.98 1415.99 2598.6 1420.02 2599.61C1424.06 2600.62 1428.5 2600.1 1432.13 2599.61C1435.76 2599.13 1437.78 2597.31 1441.82 2596.71C1445.85 2596.1 1445.85 2596.18 1456.34 2595.98C1466.84 2595.78 1485 2595.62 1504.77 2595.5C1524.54 2595.38 1563.28 2595.29 1574.99 2595.25" fill="none" stroke="#1FA845" stroke-width="3.6" stroke-linecap="butt" stroke-linejoin="round"/>
<path d="M1224.62 2503.49C1226.92 2503.37 1233.3 2502.88 1238.43 2502.76C1243.55 2502.64 1249.73 2502.68 1255.38 2502.76C1261.03 2502.84 1266.67 2502.76 1272.32 2503.24C1277.97 2503.73 1283.62 2504.86 1289.27 2505.67C1294.92 2506.47 1300.57 2507.56 1306.22 2508.09C1311.87 2508.61 1317.93 2508.09 1323.17 2508.81C1328.42 2509.54 1333.26 2510.63 1337.7 2512.45C1342.14 2514.26 1346.17 2516.88 1349.81 2519.71C1353.44 2522.53 1356.26 2525.36 1359.49 2529.39C1362.72 2533.43 1365.95 2539.08 1369.18 2543.92C1372.41 2548.77 1375.63 2553.41 1378.86 2558.45C1382.09 2563.49 1385.32 2569.43 1388.55 2574.19C1391.78 2578.95 1395 2583.67 1398.23 2587.02C1401.46 2590.37 1404.29 2592.19 1407.92 2594.29C1411.55 2596.38 1415.99 2598.72 1420.02 2599.61C1424.06 2600.5 1428.5 2600.1 1432.13 2599.61C1435.76 2599.13 1437.78 2597.31 1441.82 2596.71C1445.85 2596.1 1445.85 2596.18 1456.34 2595.98C1466.84 2595.78 1485 2595.62 1504.77 2595.5C1524.54 2595.38 1563.28 2595.29 1574.99 2595.25" fill="none" stroke="#6A9BE8" stroke-width="3.6" stroke-linecap="butt" stroke-linejoin="round"/>
<path d="M1584.21 2595.5C1596.32 2595.5 1638.29 2595.38 1656.85 2595.5C1675.42 2595.62 1685.1 2596.02 1695.59 2596.22C1706.09 2596.42 1713.35 2597.03 1719.81 2596.71C1726.26 2596.38 1729.49 2595.74 1734.33 2594.29C1739.18 2592.83 1744.42 2590.33 1748.86 2587.99C1753.3 2585.65 1756.93 2583.35 1760.97 2580.24C1765 2577.13 1769.04 2572.78 1773.08 2569.35C1777.11 2565.92 1781.15 2562.69 1785.18 2559.66C1789.22 2556.63 1793.25 2553.61 1797.29 2551.19C1801.32 2548.77 1805.36 2547.55 1809.39 2545.13C1813.43 2542.71 1817.87 2539.08 1821.5 2536.66C1825.13 2534.24 1827.55 2532.42 1831.19 2530.61C1834.82 2528.79 1839.26 2527.18 1843.29 2525.76C1847.33 2524.35 1851.36 2522.94 1855.4 2522.13C1859.44 2521.32 1863.87 2521.2 1867.51 2520.92C1871.14 2520.64 1873.96 2520.31 1877.19 2520.44C1880.42 2520.56 1883.24 2520.96 1886.88 2521.65C1890.51 2522.33 1895.35 2523.46 1898.98 2524.55C1902.62 2525.64 1905.24 2526.57 1908.67 2528.18C1912.1 2529.8 1917.75 2533.23 1919.56 2534.24" fill="none" stroke="#E8746B" stroke-width="3.6" stroke-linecap="butt" stroke-linejoin="round"/>
<path d="M1584.21 2595.5C1596.32 2595.5 1638.29 2595.38 1656.85 2595.5C1675.42 2595.62 1685.1 2596.02 1695.59 2596.22C1706.09 2596.42 1713.35 2597.03 1719.81 2596.71C1726.26 2596.38 1729.49 2595.74 1734.33 2594.29C1739.18 2592.83 1744.42 2590.33 1748.86 2587.99C1753.3 2585.65 1756.93 2583.35 1760.97 2580.24C1765 2577.13 1769.04 2572.78 1773.08 2569.35C1777.11 2565.92 1782.36 2561.68 1785.18 2559.66C1788.01 2557.64 1787.2 2558.45 1790.02 2557.24C1792.85 2556.03 1797.69 2553.73 1802.13 2552.4C1806.57 2551.07 1811.82 2550.34 1816.66 2549.25C1821.5 2548.16 1826.34 2546.95 1831.19 2545.86C1836.03 2544.77 1840.87 2543.84 1845.71 2542.71C1850.56 2541.58 1855.4 2540.29 1860.24 2539.08C1865.08 2537.87 1869.93 2536.86 1874.77 2535.45C1879.61 2534.04 1884.46 2532.22 1889.3 2530.61C1894.14 2528.99 1898.78 2527.3 1903.83 2525.76C1908.87 2524.23 1916.94 2522.13 1919.56 2521.4" fill="none" stroke="#1FA845" stroke-width="3.6" stroke-linecap="butt" stroke-linejoin="round"/>
<path d="M1584.21 2595.5C1596.32 2595.5 1638.29 2595.38 1656.85 2595.5C1675.42 2595.62 1685.1 2596.02 1695.59 2596.22C1706.09 2596.42 1713.35 2597.03 1719.81 2596.71C1726.26 2596.38 1729.49 2595.74 1734.33 2594.29C1739.18 2592.83 1744.42 2590.33 1748.86 2587.99C1753.3 2585.65 1756.93 2583.35 1760.97 2580.24C1765 2577.13 1769.04 2572.78 1773.08 2569.35C1777.11 2565.92 1781.15 2562.49 1785.18 2559.66C1789.22 2556.84 1793.25 2554.62 1797.29 2552.4C1801.32 2550.18 1805.36 2548.36 1809.39 2546.34C1813.43 2544.33 1817.47 2541.9 1821.5 2540.29C1825.54 2538.68 1829.57 2537.55 1833.61 2536.66C1837.64 2535.77 1841.68 2535.57 1845.71 2534.96C1849.75 2534.36 1853.38 2533.75 1857.82 2533.03C1862.26 2532.3 1867.51 2531.82 1872.35 2530.61C1877.19 2529.39 1882.03 2527.38 1886.88 2525.76C1891.72 2524.15 1895.96 2522.82 1901.4 2520.92C1906.85 2519.02 1916.54 2515.47 1919.56 2514.38" fill="none" stroke="#6A9BE8" stroke-width="3.6" stroke-linecap="butt" stroke-linejoin="round"/>
<line x1="1199" y1="2309.7" x2="1208" y2="2309.7" stroke="#9b9b9b" stroke-width="2.4" />
<text x="1189.8" y="2324.4" font-size="33.4" text-anchor="end" font-weight="normal" font-style="normal" fill="#000" >0.15</text>
<line x1="1199" y1="2407.8" x2="1208" y2="2407.8" stroke="#9b9b9b" stroke-width="2.4" />
<text x="1189.8" y="2422.5" font-size="33.4" text-anchor="end" font-weight="normal" font-style="normal" fill="#000" >0.10</text>
<line x1="1199" y1="2506.4" x2="1208" y2="2506.4" stroke="#9b9b9b" stroke-width="2.4" />
<text x="1189.8" y="2521.1" font-size="33.4" text-anchor="end" font-weight="normal" font-style="normal" fill="#000" >0.05</text>
<line x1="1199" y1="2605" x2="1208" y2="2605" stroke="#9b9b9b" stroke-width="2.4" />
<text x="1189.8" y="2619.7" font-size="33.4" text-anchor="end" font-weight="normal" font-style="normal" fill="#000" >0</text>
<line x1="1224.5" y1="2619.5" x2="1224.5" y2="2626.5" stroke="#9b9b9b" stroke-width="3.2" />
<line x1="1400" y1="2619.5" x2="1400" y2="2626.5" stroke="#9b9b9b" stroke-width="3.2" />
<line x1="1575.2" y1="2619.5" x2="1575.2" y2="2626.5" stroke="#9b9b9b" stroke-width="3.2" />
<line x1="1748.4" y1="2619.5" x2="1748.4" y2="2626.5" stroke="#9b9b9b" stroke-width="3.2" />
<line x1="1919.4" y1="2619.5" x2="1919.4" y2="2626.5" stroke="#9b9b9b" stroke-width="3.2" />
<line x1="1312.7" y1="2619.5" x2="1312.7" y2="2626" stroke="#9b9b9b" stroke-width="2.8" />
<line x1="1488" y1="2619.5" x2="1488" y2="2626" stroke="#9b9b9b" stroke-width="2.8" />
<line x1="1662.5" y1="2619.5" x2="1662.5" y2="2626" stroke="#9b9b9b" stroke-width="2.8" />
<line x1="1833.4" y1="2619.5" x2="1833.4" y2="2626" stroke="#9b9b9b" stroke-width="2.8" />
<line x1="1206.3" y1="2294.7" x2="1938.9" y2="2294.7" stroke="#9b9b9b" stroke-width="2.6" />
<line x1="1206.3" y1="2619.5" x2="1938.9" y2="2619.5" stroke="#9b9b9b" stroke-width="2.6" />
<line x1="1208" y1="2294.7" x2="1208" y2="2619.5" stroke="#9b9b9b" stroke-width="3.4" />
<line x1="1937.2" y1="2294.7" x2="1937.2" y2="2619.5" stroke="#9b9b9b" stroke-width="3.4" />
<text x="1178.2" y="2661" font-size="33.2" text-anchor="start" font-weight="normal" font-style="normal" fill="#000" >-2000</text>
<text x="1374.3" y="2648" font-size="22" text-anchor="start" font-weight="bold" font-style="normal" fill="#000" >5&#8217;</text>
<text x="1391.3" y="2661" font-size="33.2" text-anchor="start" font-weight="normal" font-style="normal" fill="#000" >0</text>
<text x="1529.3" y="2661" font-size="33.2" text-anchor="start" font-weight="normal" font-style="normal" fill="#000" >2000</text>
<text x="1738.1" y="2661" font-size="33.2" text-anchor="start" font-weight="normal" font-style="normal" fill="#000" >0</text>
<text x="1761.7" y="2648" font-size="22" text-anchor="start" font-weight="bold" font-style="normal" fill="#000" >3&#8217;</text>
<text x="1864.7" y="2661" font-size="33.2" text-anchor="start" font-weight="normal" font-style="normal" fill="#000" >-2000</text>
<text x="1402.8" y="2705.9" font-size="33.6" text-anchor="start" font-weight="normal" font-style="normal" fill="#000" >Distance along gene (bp)</text>
<text x="1108" y="2464.6" font-size="33" text-anchor="middle" font-weight="normal" font-style="normal" fill="#000" transform="rotate(-90 1108 2464.6)" >mCHH fraction</text>
<line x1="1286.9" y1="2355.5" x2="1300.2" y2="2355.5" stroke="#E8746B" stroke-width="3" />
<text x="1310.6" y="2360.1" font-size="24.4" text-anchor="start" font-weight="normal" font-style="normal" fill="#000" >-eQTL</text>
<line x1="1286.9" y1="2375.7" x2="1300.2" y2="2375.7" stroke="#1FA845" stroke-width="3.6" />
<text x="1309.4" y="2385.9" font-size="24.4" text-anchor="start" font-weight="normal" font-style="normal" fill="#000" >+eQTL</text>
<line x1="1286.9" y1="2396.2" x2="1300.2" y2="2396.2" stroke="#6A9BE8" stroke-width="3" />
<text x="1310.6" y="2409.2" font-size="24.4" text-anchor="start" font-weight="normal" font-style="normal" fill="#000" >NA</text>
<text x="1054" y="2329.6" font-size="41" text-anchor="start" font-weight="bold" font-style="normal" fill="#000" >n</text>
</svg>
</body>
</html>
